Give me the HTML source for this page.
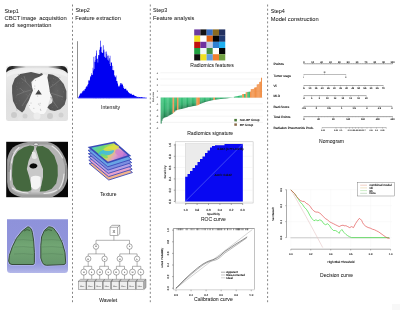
<!DOCTYPE html>
<html><head><meta charset="utf-8"><style>
html,body{margin:0;padding:0;background:#fff;width:400px;height:310px;overflow:hidden;}
svg{display:block;}
text{font-family:"Liberation Sans",sans-serif;}
svg{will-change:transform;filter:blur(0.3px);}
</style></head><body>
<svg width="400" height="310" viewBox="0 0 400 310"><line x1="72.50" y1="4.50" x2="72.50" y2="302.20" stroke="#666" stroke-width="0.8" stroke-dasharray="2 2.225"/>
<line x1="150.30" y1="4.50" x2="150.30" y2="302.20" stroke="#666" stroke-width="0.8" stroke-dasharray="2 2.225"/>
<line x1="267.60" y1="4.50" x2="267.60" y2="302.20" stroke="#666" stroke-width="0.8" stroke-dasharray="2 2.225"/>
<text x="4.5" y="12.6" font-size="6.0" fill="#1a1a1a" text-anchor="start" textLength="14.2" lengthAdjust="spacingAndGlyphs" stroke="#1a1a1a" stroke-width="0.04" >Step1</text>
<text x="4.5" y="20.0" font-size="6.0" fill="#1a1a1a" text-anchor="start" textLength="15.9" lengthAdjust="spacingAndGlyphs" stroke="#1a1a1a" stroke-width="0.04" >CBCT</text>
<text x="21.2" y="20.0" font-size="6.0" fill="#1a1a1a" text-anchor="start" textLength="15.2" lengthAdjust="spacingAndGlyphs" stroke="#1a1a1a" stroke-width="0.04" >image</text>
<text x="39.2" y="20.0" font-size="6.0" fill="#1a1a1a" text-anchor="start" textLength="27.6" lengthAdjust="spacingAndGlyphs" stroke="#1a1a1a" stroke-width="0.04" >acquisition</text>
<text x="4.5" y="27.3" font-size="6.0" fill="#1a1a1a" text-anchor="start" textLength="10.0" lengthAdjust="spacingAndGlyphs" stroke="#1a1a1a" stroke-width="0.04" >and</text>
<text x="17.3" y="27.3" font-size="6.0" fill="#1a1a1a" text-anchor="start" textLength="34.0" lengthAdjust="spacingAndGlyphs" stroke="#1a1a1a" stroke-width="0.04" >segmentation</text>
<text x="75.5" y="12.3" font-size="6.0" fill="#1a1a1a" text-anchor="start" textLength="14.2" lengthAdjust="spacingAndGlyphs" stroke="#1a1a1a" stroke-width="0.04" >Step2</text>
<text x="75.3" y="20.0" font-size="6.0" fill="#1a1a1a" text-anchor="start" textLength="45.5" lengthAdjust="spacingAndGlyphs" stroke="#1a1a1a" stroke-width="0.04" >Feature extraction</text>
<text x="153" y="12.3" font-size="6.0" fill="#1a1a1a" text-anchor="start" textLength="14.2" lengthAdjust="spacingAndGlyphs" stroke="#1a1a1a" stroke-width="0.04" >Step3</text>
<text x="153.1" y="20.0" font-size="6.0" fill="#1a1a1a" text-anchor="start" textLength="41.3" lengthAdjust="spacingAndGlyphs" stroke="#1a1a1a" stroke-width="0.04" >Feature analysis</text>
<text x="270.7" y="13.2" font-size="6.0" fill="#1a1a1a" text-anchor="start" textLength="14.2" lengthAdjust="spacingAndGlyphs" stroke="#1a1a1a" stroke-width="0.04" >Step4</text>
<text x="270.7" y="20.9" font-size="6.0" fill="#1a1a1a" text-anchor="start" textLength="48" lengthAdjust="spacingAndGlyphs" stroke="#1a1a1a" stroke-width="0.04" >Model construction</text>
<defs>
<linearGradient id="ct1top" x1="0" x2="1" y1="0" y2="0">
<stop offset="0" stop-color="#1a1a1a"/><stop offset="0.1" stop-color="#2a2a2a"/><stop offset="0.2" stop-color="#8a8a8a"/><stop offset="0.32" stop-color="#dedede"/><stop offset="0.68" stop-color="#dedede"/><stop offset="0.8" stop-color="#8a8a8a"/><stop offset="0.9" stop-color="#2a2a2a"/><stop offset="1" stop-color="#1a1a1a"/></linearGradient>
<linearGradient id="ct1bg" x1="0" x2="0" y1="0" y2="1">
<stop offset="0" stop-color="#ececec"/><stop offset="0.6" stop-color="#e0e0e0"/><stop offset="1" stop-color="#e2e2e2"/></linearGradient>
<radialGradient id="lungg" cx="0.5" cy="0.5" r="0.6"><stop offset="0" stop-color="#626262"/><stop offset="1" stop-color="#525252"/></radialGradient>
</defs>
<rect x="6" y="65.8" width="62" height="55.2" rx="2.5" fill="url(#ct1bg)"/>
<path d="M6.2,72.5 Q6.2,66 12,65.9 H62 Q67.8,66 67.8,73.5 Q64.5,68.8 53,68 Q37,67.6 21,68 Q9.5,68.6 6.2,72.5 Z" fill="url(#ct1top)"/>
<path d="M7,74.5 Q11,70 24,69.4 Q37,69 50,69.4 Q63,70 67,74.5 L67,77 Q60,72.3 37,72 Q14,72.3 7,77 Z" fill="#f0f0f0"/>
<path d="M42.5,74.5 Q45,73.5 47.4,76 Q48.5,82 49.5,88 Q51,94 50,99 Q48,104 47.5,108 Q46,112 44,114 L36,114 Q30,111 28.5,106 Q28.5,100 29.5,95 Q31.5,90 31.5,86 Q32,82 34.5,79.5 Q39,77.5 42.5,74.5 Z" fill="#f7f7f7"/>
<polygon points="12.10,85.70 14.80,78.50 20.30,73.90 31.10,72.10 39.30,73.90 42.00,73.00 42.90,74.80 39.30,76.70 34.70,78.50 31.30,82.00 32.00,87.00 33.00,90.50 30.80,95.60 29.00,100.20 26.50,104.70 24.50,110.10 22.10,112.50 16.70,108.40 13.00,101.00 12.10,92.90" fill="url(#lungg)" />
<polygon points="48.30,73.90 52.80,74.80 58.20,77.60 63.70,83.90 66.40,91.10 66.40,98.40 64.60,104.70 60.10,109.20 54.60,111.00 50.10,110.10 47.40,107.40 49.20,104.70 51.90,102.90 52.80,100.20 51.90,96.50 50.10,92.90 49.20,87.50 48.30,82.10 47.40,77.60" fill="url(#lungg)" />
<path d="M31.5,88 L26,82 L21,78" fill="none" stroke="#8a8a8a" stroke-width="0.6" opacity="0.8"/>
<path d="M31,90 L24,92 L17,95" fill="none" stroke="#8a8a8a" stroke-width="0.6" opacity="0.8"/>
<path d="M30.5,93 L26,100 L22,106" fill="none" stroke="#8a8a8a" stroke-width="0.6" opacity="0.8"/>
<path d="M26,82 L24,76" fill="none" stroke="#8a8a8a" stroke-width="0.6" opacity="0.8"/>
<path d="M24,92 L20,88" fill="none" stroke="#8a8a8a" stroke-width="0.6" opacity="0.8"/>
<path d="M49.5,88 L55,84 L60,80" fill="none" stroke="#8a8a8a" stroke-width="0.6" opacity="0.8"/>
<path d="M50,93 L57,95 L63,97" fill="none" stroke="#8a8a8a" stroke-width="0.6" opacity="0.8"/>
<path d="M50.5,97 L55,104 L58,108" fill="none" stroke="#8a8a8a" stroke-width="0.6" opacity="0.8"/>
<polygon points="35.30,94.60 38.50,89.80 41.80,94.60" fill="#444" />
<circle cx="26.2" cy="94.5" r="0.5" fill="#7a7a7a" opacity="0.5"/>
<circle cx="63.3" cy="91.3" r="0.5" fill="#7a7a7a" opacity="0.5"/>
<circle cx="27.7" cy="95.5" r="0.5" fill="#7a7a7a" opacity="0.5"/>
<circle cx="52.2" cy="92.8" r="0.5" fill="#7a7a7a" opacity="0.5"/>
<circle cx="31.0" cy="103.0" r="0.5" fill="#7a7a7a" opacity="0.5"/>
<circle cx="50.8" cy="85.9" r="0.5" fill="#7a7a7a" opacity="0.5"/>
<circle cx="16.5" cy="103.6" r="0.5" fill="#7a7a7a" opacity="0.5"/>
<circle cx="59.8" cy="77.3" r="0.5" fill="#7a7a7a" opacity="0.5"/>
<circle cx="40.4" cy="109.2" r="0.5" fill="#7a7a7a" opacity="0.5"/>
<circle cx="59.2" cy="96.3" r="0.5" fill="#7a7a7a" opacity="0.5"/>
<circle cx="18.3" cy="74.6" r="0.5" fill="#7a7a7a" opacity="0.5"/>
<circle cx="57.3" cy="77.9" r="0.5" fill="#7a7a7a" opacity="0.5"/>
<circle cx="19.2" cy="82.9" r="0.5" fill="#7a7a7a" opacity="0.5"/>
<circle cx="49.9" cy="91.3" r="0.5" fill="#7a7a7a" opacity="0.5"/>
<circle cx="25.9" cy="104.8" r="0.5" fill="#7a7a7a" opacity="0.5"/>
<circle cx="57.2" cy="97.1" r="0.5" fill="#7a7a7a" opacity="0.5"/>
<circle cx="27.5" cy="98.2" r="0.5" fill="#7a7a7a" opacity="0.5"/>
<circle cx="56.3" cy="85.1" r="0.5" fill="#7a7a7a" opacity="0.5"/>
<circle cx="40.8" cy="110.3" r="0.5" fill="#7a7a7a" opacity="0.5"/>
<circle cx="62.0" cy="99.3" r="0.5" fill="#7a7a7a" opacity="0.5"/>
<circle cx="22.5" cy="82.5" r="0.5" fill="#7a7a7a" opacity="0.5"/>
<circle cx="53.7" cy="78.2" r="0.5" fill="#7a7a7a" opacity="0.5"/>
<circle cx="34.6" cy="88.7" r="0.5" fill="#7a7a7a" opacity="0.5"/>
<circle cx="62.1" cy="88.7" r="0.5" fill="#7a7a7a" opacity="0.5"/>
<circle cx="39.8" cy="104.9" r="0.5" fill="#7a7a7a" opacity="0.5"/>
<circle cx="49.4" cy="82.8" r="0.5" fill="#7a7a7a" opacity="0.5"/>
<circle cx="38.5" cy="91.2" r="0.5" fill="#7a7a7a" opacity="0.5"/>
<circle cx="64.1" cy="89.1" r="0.5" fill="#7a7a7a" opacity="0.5"/>
<circle cx="16.1" cy="97.0" r="0.5" fill="#7a7a7a" opacity="0.5"/>
<circle cx="61.1" cy="84.8" r="0.5" fill="#7a7a7a" opacity="0.5"/>
<circle cx="16.4" cy="86.2" r="0.5" fill="#7a7a7a" opacity="0.5"/>
<circle cx="63.9" cy="101.0" r="0.5" fill="#7a7a7a" opacity="0.5"/>
<circle cx="17.3" cy="83.1" r="0.5" fill="#7a7a7a" opacity="0.5"/>
<circle cx="50.9" cy="77.9" r="0.5" fill="#7a7a7a" opacity="0.5"/>
<circle cx="35.5" cy="80.6" r="0.5" fill="#7a7a7a" opacity="0.5"/>
<circle cx="57.8" cy="90.7" r="0.5" fill="#7a7a7a" opacity="0.5"/>
<circle cx="19.2" cy="100.7" r="0.5" fill="#7a7a7a" opacity="0.5"/>
<circle cx="51.4" cy="97.2" r="0.5" fill="#7a7a7a" opacity="0.5"/>
<circle cx="17.2" cy="89.4" r="0.5" fill="#7a7a7a" opacity="0.5"/>
<circle cx="52.6" cy="84.8" r="0.5" fill="#7a7a7a" opacity="0.5"/>
<circle cx="40.1" cy="103.3" r="0.5" fill="#7a7a7a" opacity="0.5"/>
<circle cx="54.0" cy="105.2" r="0.5" fill="#7a7a7a" opacity="0.5"/>
<circle cx="19.7" cy="88.5" r="0.5" fill="#7a7a7a" opacity="0.5"/>
<circle cx="62.2" cy="97.1" r="0.5" fill="#7a7a7a" opacity="0.5"/>
<circle cx="16.8" cy="110.1" r="0.5" fill="#7a7a7a" opacity="0.5"/>
<circle cx="52.6" cy="84.4" r="0.5" fill="#7a7a7a" opacity="0.5"/>
<circle cx="34.8" cy="86.1" r="0.5" fill="#7a7a7a" opacity="0.5"/>
<circle cx="53.8" cy="78.3" r="0.5" fill="#7a7a7a" opacity="0.5"/>
<circle cx="16.5" cy="95.3" r="0.5" fill="#7a7a7a" opacity="0.5"/>
<circle cx="53.0" cy="95.8" r="0.5" fill="#7a7a7a" opacity="0.5"/>
<circle cx="24.1" cy="90.6" r="0.5" fill="#7a7a7a" opacity="0.5"/>
<circle cx="63.8" cy="91.9" r="0.5" fill="#7a7a7a" opacity="0.5"/>
<circle cx="29.5" cy="105.6" r="0.5" fill="#7a7a7a" opacity="0.5"/>
<circle cx="52.1" cy="81.0" r="0.5" fill="#7a7a7a" opacity="0.5"/>
<circle cx="38.4" cy="103.9" r="0.5" fill="#7a7a7a" opacity="0.5"/>
<circle cx="53.1" cy="82.2" r="0.5" fill="#7a7a7a" opacity="0.5"/>
<circle cx="33.9" cy="108.3" r="0.5" fill="#7a7a7a" opacity="0.5"/>
<circle cx="52.3" cy="107.3" r="0.5" fill="#7a7a7a" opacity="0.5"/>
<circle cx="37.7" cy="96.1" r="0.5" fill="#7a7a7a" opacity="0.5"/>
<circle cx="55.7" cy="79.3" r="0.5" fill="#7a7a7a" opacity="0.5"/>
<circle cx="14" cy="115" r="3" fill="#cbcbcb"/>
<circle cx="25" cy="116" r="2.5" fill="#d0d0d0"/>
<circle cx="50" cy="116" r="3" fill="#cbcbcb"/>
<circle cx="61" cy="115" r="2.5" fill="#d0d0d0"/>
<circle cx="37" cy="116" r="3.5" fill="#ededed"/>
<circle cx="20" cy="119" r="2" fill="#e4e4e4"/>
<circle cx="55" cy="119" r="2" fill="#e4e4e4"/>
<rect x="6.2" y="141.8" width="61.8" height="55.4" fill="#080808"/>
<path d="M28,141.9 L47.5,141.9 Q54,143 59,148 Q63,153 65.5,159 Q67.6,165 67.6,170 L67.6,178 Q66,186 62,190.5 Q58,194.5 52,197.2 H22 Q13,195.5 9.5,191 Q7.1,187 7.1,182 L7.1,160 Q8.5,152 13,147.5 Q19,143 28,141.9 Z" fill="#9c9c9c"/>
<path d="M28.5,144.4 L48,144.4 Q53.5,145.5 57,150 Q61,155 63.2,160.5 Q65.1,166 65.1,170.5 L65.1,177.5 Q63.8,184.5 60.2,188.6 Q56.5,192.2 51,194.6 H22.5 Q15,193.2 12,189.5 Q9.7,186 9.7,181.5 L9.7,161 Q11,154 14.8,150 Q20,145.5 28.5,144.4 Z" fill="#b4b4b4"/>
<path d="M11.5,163 Q12.5,153 19,147.5" fill="none" stroke="#e6e6e6" stroke-width="1.1" stroke-linecap="round"/>
<path d="M52,146 Q59,150.5 62.5,158" fill="none" stroke="#e6e6e6" stroke-width="1.1" stroke-linecap="round"/>
<path d="M12.5,188 Q18,192.5 28,193" fill="none" stroke="#e6e6e6" stroke-width="1.1" stroke-linecap="round"/>
<path d="M64,174 Q63.5,183 59,189" fill="none" stroke="#e6e6e6" stroke-width="1.1" stroke-linecap="round"/>
<path d="M10.5,170 L10.5,180" fill="none" stroke="#e6e6e6" stroke-width="1.1" stroke-linecap="round"/>
<path d="M44,193.5 Q52,193 57,190" fill="none" stroke="#e6e6e6" stroke-width="1.1" stroke-linecap="round"/>
<path d="M9,172 Q9,160 13,153" fill="none" stroke="#7a7a7a" stroke-width="0.8"/>
<path d="M66,165 Q66,178 63,186" fill="none" stroke="#7a7a7a" stroke-width="0.8"/>
<path d="M34.1,148.2 L36.2,148.2 L39.9,161 L43.6,169 L43.6,177 L41.9,185 L40.2,192.6 L31.3,192.6 L30.6,185 L28.9,177 L26.4,169 L28.3,161 Z" fill="#c8c8c8"/>
<polygon points="12.30,166.00 13.80,157.00 18.00,151.00 24.00,147.30 30.00,145.60 34.00,146.30 34.10,149.00 31.00,155.00 28.50,161.00 26.80,169.00 29.30,177.00 30.90,185.00 31.50,190.00 28.00,191.50 22.00,191.20 16.50,189.50 13.20,184.50 12.00,176.00" fill="#45683f" />
<polygon points="37.00,146.30 42.70,146.10 48.50,149.00 54.30,155.80 57.60,165.50 57.80,175.70 56.20,183.50 51.50,189.00 45.50,191.20 40.50,191.60 39.70,192.00 41.40,185.00 43.00,177.00 43.00,169.00 39.70,161.00 36.00,149.00" fill="#45683f" />
<path d="M29.3,166 Q30.5,163.1 34,163.4 Q37.6,163.8 37.4,166.3 Q36.2,168.7 33,168.5 Q29.8,168.4 29.3,166 Z" fill="#0a0a0a"/>
<path d="M31,177 Q35.7,174.3 40.6,177 L40.6,185.5 Q38,189.5 35.5,189.5 Q33,189.5 31,186.5 Z" fill="#f4f4f4"/>
<path d="M32,152 Q34,151 35.5,153 L37,158 Q34.5,160 32,158 Z" fill="#e8e8e8"/>
<ellipse cx="36" cy="144.2" rx="2.6" ry="1.1" fill="#fafafa" stroke="#222" stroke-width="0.4"/>
<defs><linearGradient id="bg3" x1="0" x2="0" y1="0" y2="1"><stop offset="0" stop-color="#8e92da"/><stop offset="0.8" stop-color="#9295dc"/><stop offset="0.9" stop-color="#a0a4e0"/><stop offset="1" stop-color="#b4b8ea"/></linearGradient><linearGradient id="lg3" x1="0" x2="0" y1="0" y2="1"><stop offset="0" stop-color="#5e9062"/><stop offset="0.5" stop-color="#72a674"/><stop offset="1" stop-color="#66966a"/></linearGradient></defs>
<path d="M7,219.2 H68 V269.5 Q68,273 64.5,273 H10.5 Q7,273 7,269.5 Z" fill="url(#bg3)"/>
<path d="M27.9,226.8 L22.2,231.1 L16.5,238.2 L12.3,246.8 L9.4,255.3 L8.7,261 Q9,264.5 12,264.5 L33.2,264.5 Q34.6,264 34.4,262.4 L34.4,252.4 L33.7,241 L32.4,232.5 Q31.2,227 27.9,226.8 Z" fill="none" stroke="#b4b8ea" stroke-width="2.4"/>
<path d="M48.7,226.8 L44.4,230.4 L41.6,236.8 L40.8,245.3 L40.8,258.1 L42.3,262.4 Q43.5,265.3 46.5,265.3 L64,264.6 Q65.8,264 65.7,262.4 L65,252.4 L62.2,242.5 L57.9,234 L53.6,228.3 Q51,226.6 48.7,226.8 Z" fill="none" stroke="#b4b8ea" stroke-width="2.4"/>
<path d="M27.9,226.8 L22.2,231.1 L16.5,238.2 L12.3,246.8 L9.4,255.3 L8.7,261 Q9,264.5 12,264.5 L33.2,264.5 Q34.6,264 34.4,262.4 L34.4,252.4 L33.7,241 L32.4,232.5 Q31.2,227 27.9,226.8 Z" fill="url(#lg3)" stroke="#2c422c" stroke-width="0.9"/>
<path d="M48.7,226.8 L44.4,230.4 L41.6,236.8 L40.8,245.3 L40.8,258.1 L42.3,262.4 Q43.5,265.3 46.5,265.3 L64,264.6 Q65.8,264 65.7,262.4 L65,252.4 L62.2,242.5 L57.9,234 L53.6,228.3 Q51,226.6 48.7,226.8 Z" fill="url(#lg3)" stroke="#2c422c" stroke-width="0.9"/>
<path d="M24,231 Q27,228.5 30,230.5" fill="none" stroke="#2f4a2c" stroke-width="0.7"/>
<path d="M45,231 Q48,228.5 52,230.5" fill="none" stroke="#2f4a2c" stroke-width="0.7"/>
<path d="M14,240 Q24,239 33,240.5" fill="none" stroke="#557f58" stroke-width="0.6" opacity="0.7"/>
<path d="M42,240 Q52,239 63,240.5" fill="none" stroke="#557f58" stroke-width="0.6" opacity="0.7"/>
<path d="M14,247 Q24,246 33,247.5" fill="none" stroke="#557f58" stroke-width="0.6" opacity="0.7"/>
<path d="M42,247 Q52,246 63,247.5" fill="none" stroke="#557f58" stroke-width="0.6" opacity="0.7"/>
<path d="M14,254 Q24,253 33,254.5" fill="none" stroke="#557f58" stroke-width="0.6" opacity="0.7"/>
<path d="M42,254 Q52,253 63,254.5" fill="none" stroke="#557f58" stroke-width="0.6" opacity="0.7"/>
<path d="M77.88,98.2 V97.79 H78.43 V96.79 H78.98 V95.69 H79.53 V94.39 H80.08 V93.84 H80.63 V93.11 H81.18 V93.60 H81.73 V92.58 H82.28 V91.35 H82.83 V91.20 H83.38 V90.20 H83.93 V90.82 H84.48 V89.36 H85.03 V89.04 H85.58 V87.47 H86.13 V86.32 H86.68 V86.87 H87.23 V85.29 H87.78 V83.94 H88.33 V80.42 H88.88 V79.67 H89.43 V80.67 H89.98 V75.91 H90.53 V77.29 H91.08 V73.30 H91.63 V75.03 H92.18 V74.72 H92.73 V67.76 H93.28 V70.48 H93.83 V68.95 H94.38 V61.73 H94.93 V60.12 H95.48 V61.92 H96.03 V53.36 H96.58 V58.64 H97.13 V58.85 H97.68 V62.46 H98.23 V54.89 H98.78 V55.32 H99.33 V49.79 H99.88 V47.32 H100.43 V47.17 H100.98 V46.77 H101.53 V52.27 H102.08 V52.97 H102.63 V52.67 H103.18 V50.32 H103.73 V49.59 H104.28 V56.84 H104.83 V51.76 H105.38 V57.77 H105.93 V57.48 H106.48 V51.59 H107.03 V55.80 H107.58 V59.80 H108.13 V60.95 H108.68 V59.65 H109.23 V64.10 H109.78 V55.78 H110.33 V65.96 H110.88 V62.25 H111.43 V62.82 H111.98 V69.93 H112.53 V65.77 H113.08 V70.16 H113.63 V70.32 H114.18 V75.23 H114.73 V76.44 H115.28 V77.19 H115.83 V75.49 H116.38 V81.02 H116.93 V81.24 H117.48 V83.53 H118.03 V85.80 H118.58 V86.81 H119.13 V86.27 H119.68 V84.81 H120.23 V82.92 H120.78 V84.83 H121.33 V83.26 H121.88 V83.75 H122.43 V84.71 H122.98 V87.99 H123.53 V86.35 H124.08 V88.92 H124.63 V88.86 H125.18 V88.81 H125.73 V88.76 H126.28 V90.40 H126.83 V89.92 H127.38 V91.11 H127.93 V91.99 H128.48 V92.45 H129.03 V93.04 H129.58 V93.55 H130.13 V93.86 H130.68 V93.73 H131.23 V93.74 H131.78 V94.69 H132.33 V94.98 H132.88 V94.46 H133.43 V95.02 H133.98 V95.42 H134.53 V95.83 H135.08 V95.96 H135.63 V96.18 H136.18 V96.60 H136.73 V96.71 H137.28 V96.94 H137.83 V96.78 H138.38 V97.13 H138.93 V97.05 H139.48 V96.96 H140.03 V97.15 H140.58 V96.99 H141.13 V96.93 H141.68 V97.12 H142.23 V97.19 H142.78 V97.43 H143.33 V97.48 H143.88 V97.61 H144.43 V97.57 H144.98 V97.69 H145.53 V97.73 H146.08 V97.73 H146.63 V98.2 Z" fill="#0000f2"/>
<rect x="100.40" y="40.70" width="0.6" height="57.50" fill="#0000f2"/>
<rect x="102.90" y="45.30" width="0.6" height="52.90" fill="#0000f2"/>
<rect x="96.20" y="50.50" width="0.6" height="47.70" fill="#0000f2"/>
<rect x="98.60" y="56.50" width="0.6" height="41.70" fill="#0000f2"/>
<rect x="106.50" y="53.80" width="0.6" height="44.40" fill="#0000f2"/>
<rect x="107.90" y="55.50" width="0.6" height="42.70" fill="#0000f2"/>
<rect x="109.20" y="58.20" width="0.6" height="40.00" fill="#0000f2"/>
<rect x="95.20" y="55.80" width="0.6" height="42.40" fill="#0000f2"/>
<rect x="93.60" y="56.80" width="0.6" height="41.40" fill="#0000f2"/>
<rect x="120.60" y="83.50" width="0.6" height="14.70" fill="#0000f2"/>
<line x1="77.50" y1="41.20" x2="77.50" y2="98.00" stroke="#444" stroke-width="0.6" />
<line x1="77.50" y1="98.00" x2="147.00" y2="98.00" stroke="#7777ff" stroke-width="0.5" />
<text x="110.6" y="109.1" font-size="5.0" fill="#333" text-anchor="middle" textLength="19" lengthAdjust="spacingAndGlyphs" stroke="#333" stroke-width="0.04" >Intensity</text>
<defs>
<linearGradient id="tg1" x1="0" x2="1" y1="0" y2="0.4"><stop offset="0" stop-color="#40c8e8"/><stop offset="0.35" stop-color="#70d870"/><stop offset="0.6" stop-color="#d8e048"/><stop offset="0.8" stop-color="#e0a0c8"/><stop offset="1" stop-color="#b070d8"/></linearGradient>
</defs>
<polygon points="89.05,163.50 115.85,158.10 132.45,172.50 108.75,180.00" fill="#f2b48c" stroke="#3c4cba" stroke-width="0.9" stroke-linejoin="round"/>
<polygon points="88.80,160.20 115.60,154.80 132.20,169.20 108.50,176.70" fill="#e6a2cc" stroke="#3c4cba" stroke-width="0.9" stroke-linejoin="round"/>
<polygon points="88.55,156.90 115.35,151.50 131.95,165.90 108.25,173.40" fill="#b2a0e4" stroke="#3c4cba" stroke-width="0.9" stroke-linejoin="round"/>
<polygon points="88.30,153.60 115.10,148.20 131.70,162.60 108.00,170.10" fill="#7c8ee0" stroke="#3c4cba" stroke-width="0.9" stroke-linejoin="round"/>
<polygon points="88.05,150.30 114.85,144.90 131.45,159.30 107.75,166.80" fill="#68a4e4" stroke="#3c4cba" stroke-width="0.9" stroke-linejoin="round"/>
<polygon points="87.60,147.00 114.60,141.60 131.20,156.00 107.50,163.50" fill="#3a4ab8" />
<polygon points="91.22,147.80 113.90,143.27 127.84,155.36 107.94,161.66" fill="url(#tg1)" />
<ellipse cx="106.2" cy="152.5" rx="8" ry="3" fill="#38b8e8" opacity="0.85" transform="rotate(-12 106.2 152.5)"/>
<ellipse cx="111.2" cy="148.2" rx="8" ry="2.4" fill="#e0e040" opacity="0.8" transform="rotate(-12 111.2 148.2)"/>
<ellipse cx="119.2" cy="153.0" rx="4.5" ry="2.8" fill="#d080d0" opacity="0.8" transform="rotate(35 119.2 153.0)"/>
<ellipse cx="104.2" cy="156.0" rx="4" ry="1.6" fill="#70d870" opacity="0.8" transform="rotate(25 104.2 156.0)"/>
<text x="108.3" y="195.5" font-size="5.0" fill="#222" text-anchor="middle" textLength="16.3" lengthAdjust="spacingAndGlyphs" stroke="#222" stroke-width="0.04" >Texture</text>
<rect x="110" y="227.2" width="7.8" height="8.5" fill="#fff" stroke="#555" stroke-width="0.45"/>
<path d="M110,227.2 L112,225.3 H119.8 L117.8,227.2 M119.8,225.3 V233.8 L117.8,235.7" fill="#eee" stroke="#555" stroke-width="0.45"/>
<text x="113.9" y="233.2" font-size="4.2" fill="#333" text-anchor="middle" stroke="#333" stroke-width="0.04" >X</text>
<line x1="113.90" y1="235.70" x2="113.90" y2="240.30" stroke="#555" stroke-width="0.45" />
<line x1="96.00" y1="240.30" x2="129.50" y2="240.30" stroke="#555" stroke-width="0.45" />
<line x1="96.00" y1="240.30" x2="96.00" y2="243.90" stroke="#555" stroke-width="0.45" />
<circle cx="96" cy="246.6" r="2.7" fill="#fff" stroke="#555" stroke-width="0.5"/>
<text x="96" y="247.4" font-size="2.2" fill="#555" text-anchor="middle" stroke="#555" stroke-width="0.12"  text-rendering="geometricPrecision">H</text>
<line x1="129.50" y1="240.30" x2="129.50" y2="243.90" stroke="#555" stroke-width="0.45" />
<circle cx="129.5" cy="246.6" r="2.7" fill="#fff" stroke="#555" stroke-width="0.5"/>
<text x="129.5" y="247.4" font-size="2.2" fill="#555" text-anchor="middle" stroke="#555" stroke-width="0.12"  text-rendering="geometricPrecision">L</text>
<line x1="96.00" y1="249.30" x2="96.00" y2="253.90" stroke="#555" stroke-width="0.45" />
<line x1="129.50" y1="249.30" x2="129.50" y2="253.90" stroke="#555" stroke-width="0.45" />
<line x1="88.20" y1="253.90" x2="104.60" y2="253.90" stroke="#555" stroke-width="0.45" />
<line x1="119.80" y1="253.90" x2="137.10" y2="253.90" stroke="#555" stroke-width="0.45" />
<line x1="88.20" y1="253.90" x2="88.20" y2="256.10" stroke="#555" stroke-width="0.45" />
<circle cx="88.2" cy="258.8" r="2.7" fill="#fff" stroke="#555" stroke-width="0.5"/>
<text x="88.2" y="259.6" font-size="2.2" fill="#555" text-anchor="middle" stroke="#555" stroke-width="0.12"  text-rendering="geometricPrecision">H</text>
<line x1="104.60" y1="253.90" x2="104.60" y2="256.10" stroke="#555" stroke-width="0.45" />
<circle cx="104.6" cy="258.8" r="2.7" fill="#fff" stroke="#555" stroke-width="0.5"/>
<text x="104.6" y="259.6" font-size="2.2" fill="#555" text-anchor="middle" stroke="#555" stroke-width="0.12"  text-rendering="geometricPrecision">L</text>
<line x1="119.80" y1="253.90" x2="119.80" y2="256.10" stroke="#555" stroke-width="0.45" />
<circle cx="119.8" cy="258.8" r="2.7" fill="#fff" stroke="#555" stroke-width="0.5"/>
<text x="119.8" y="259.6" font-size="2.2" fill="#555" text-anchor="middle" stroke="#555" stroke-width="0.12"  text-rendering="geometricPrecision">H</text>
<line x1="137.10" y1="253.90" x2="137.10" y2="256.10" stroke="#555" stroke-width="0.45" />
<circle cx="137.1" cy="258.8" r="2.7" fill="#fff" stroke="#555" stroke-width="0.5"/>
<text x="137.1" y="259.6" font-size="2.2" fill="#555" text-anchor="middle" stroke="#555" stroke-width="0.12"  text-rendering="geometricPrecision">L</text>
<line x1="88.20" y1="261.50" x2="88.20" y2="266.30" stroke="#555" stroke-width="0.45" />
<line x1="83.80" y1="266.30" x2="91.70" y2="266.30" stroke="#555" stroke-width="0.45" />
<line x1="83.80" y1="266.30" x2="83.80" y2="269.40" stroke="#555" stroke-width="0.45" />
<line x1="91.70" y1="266.30" x2="91.70" y2="269.40" stroke="#555" stroke-width="0.45" />
<line x1="104.60" y1="261.50" x2="104.60" y2="266.30" stroke="#555" stroke-width="0.45" />
<line x1="99.70" y1="266.30" x2="108.40" y2="266.30" stroke="#555" stroke-width="0.45" />
<line x1="99.70" y1="266.30" x2="99.70" y2="269.40" stroke="#555" stroke-width="0.45" />
<line x1="108.40" y1="266.30" x2="108.40" y2="269.40" stroke="#555" stroke-width="0.45" />
<line x1="119.80" y1="261.50" x2="119.80" y2="266.30" stroke="#555" stroke-width="0.45" />
<line x1="116.40" y1="266.30" x2="124.50" y2="266.30" stroke="#555" stroke-width="0.45" />
<line x1="116.40" y1="266.30" x2="116.40" y2="269.40" stroke="#555" stroke-width="0.45" />
<line x1="124.50" y1="266.30" x2="124.50" y2="269.40" stroke="#555" stroke-width="0.45" />
<line x1="137.10" y1="261.50" x2="137.10" y2="266.30" stroke="#555" stroke-width="0.45" />
<line x1="132.50" y1="266.30" x2="140.80" y2="266.30" stroke="#555" stroke-width="0.45" />
<line x1="132.50" y1="266.30" x2="132.50" y2="269.40" stroke="#555" stroke-width="0.45" />
<line x1="140.80" y1="266.30" x2="140.80" y2="269.40" stroke="#555" stroke-width="0.45" />
<circle cx="83.8" cy="272.1" r="3.0" fill="#fff" stroke="#555" stroke-width="0.5"/>
<text x="83.8" y="272.90000000000003" font-size="2.2" fill="#555" text-anchor="middle" stroke="#555" stroke-width="0.12"  text-rendering="geometricPrecision">H</text>
<line x1="83.80" y1="274.80" x2="83.80" y2="279.30" stroke="#555" stroke-width="0.45" />
<circle cx="91.7" cy="272.1" r="3.0" fill="#fff" stroke="#555" stroke-width="0.5"/>
<text x="91.7" y="272.90000000000003" font-size="2.2" fill="#555" text-anchor="middle" stroke="#555" stroke-width="0.12"  text-rendering="geometricPrecision">L</text>
<line x1="91.70" y1="274.80" x2="91.70" y2="279.30" stroke="#555" stroke-width="0.45" />
<circle cx="99.7" cy="272.1" r="3.0" fill="#fff" stroke="#555" stroke-width="0.5"/>
<text x="99.7" y="272.90000000000003" font-size="2.2" fill="#555" text-anchor="middle" stroke="#555" stroke-width="0.12"  text-rendering="geometricPrecision">H</text>
<line x1="99.70" y1="274.80" x2="99.70" y2="279.30" stroke="#555" stroke-width="0.45" />
<circle cx="108.4" cy="272.1" r="3.0" fill="#fff" stroke="#555" stroke-width="0.5"/>
<text x="108.4" y="272.90000000000003" font-size="2.2" fill="#555" text-anchor="middle" stroke="#555" stroke-width="0.12"  text-rendering="geometricPrecision">L</text>
<line x1="108.40" y1="274.80" x2="108.40" y2="279.30" stroke="#555" stroke-width="0.45" />
<circle cx="116.4" cy="272.1" r="3.0" fill="#fff" stroke="#555" stroke-width="0.5"/>
<text x="116.4" y="272.90000000000003" font-size="2.2" fill="#555" text-anchor="middle" stroke="#555" stroke-width="0.12"  text-rendering="geometricPrecision">H</text>
<line x1="116.40" y1="274.80" x2="116.40" y2="279.30" stroke="#555" stroke-width="0.45" />
<circle cx="124.5" cy="272.1" r="3.0" fill="#fff" stroke="#555" stroke-width="0.5"/>
<text x="124.5" y="272.90000000000003" font-size="2.2" fill="#555" text-anchor="middle" stroke="#555" stroke-width="0.12"  text-rendering="geometricPrecision">L</text>
<line x1="124.50" y1="274.80" x2="124.50" y2="279.30" stroke="#555" stroke-width="0.45" />
<circle cx="132.5" cy="272.1" r="3.0" fill="#fff" stroke="#555" stroke-width="0.5"/>
<text x="132.5" y="272.90000000000003" font-size="2.2" fill="#555" text-anchor="middle" stroke="#555" stroke-width="0.12"  text-rendering="geometricPrecision">H</text>
<line x1="132.50" y1="274.80" x2="132.50" y2="279.30" stroke="#555" stroke-width="0.45" />
<circle cx="140.8" cy="272.1" r="3.0" fill="#fff" stroke="#555" stroke-width="0.5"/>
<text x="140.8" y="272.90000000000003" font-size="2.2" fill="#555" text-anchor="middle" stroke="#555" stroke-width="0.12"  text-rendering="geometricPrecision">L</text>
<line x1="140.80" y1="274.80" x2="140.80" y2="279.30" stroke="#555" stroke-width="0.45" />
<path d="M86.00,281.2 L88.20,279.30 V287.70 L86.00,289.6 Z" fill="#b8b8b8" stroke="#555" stroke-width="0.45"/>
<path d="M78.40,281.2 L80.60,279.30 H88.20 L86.00,281.2 Z" fill="#dedede" stroke="#666" stroke-width="0.45"/>
<rect x="78.40" y="281.2" width="7.6" height="8.40" fill="#efefef" stroke="#666" stroke-width="0.45"/>
<text x="82.2" y="286.6" font-size="2.3" fill="#555" text-anchor="middle" stroke="#555" stroke-width="0.05"  text-rendering="geometricPrecision">H<tspan font-size="1.6">LLL</tspan></text>
<path d="M94.25,281.2 L96.45,279.30 V287.70 L94.25,289.6 Z" fill="#b8b8b8" stroke="#555" stroke-width="0.45"/>
<path d="M86.65,281.2 L88.85,279.30 H96.45 L94.25,281.2 Z" fill="#dedede" stroke="#666" stroke-width="0.45"/>
<rect x="86.65" y="281.2" width="7.6" height="8.40" fill="#efefef" stroke="#666" stroke-width="0.45"/>
<text x="90.45" y="286.6" font-size="2.3" fill="#555" text-anchor="middle" stroke="#555" stroke-width="0.05"  text-rendering="geometricPrecision">H<tspan font-size="1.6">LLL</tspan></text>
<path d="M102.50,281.2 L104.70,279.30 V287.70 L102.50,289.6 Z" fill="#b8b8b8" stroke="#555" stroke-width="0.45"/>
<path d="M94.90,281.2 L97.10,279.30 H104.70 L102.50,281.2 Z" fill="#dedede" stroke="#666" stroke-width="0.45"/>
<rect x="94.90" y="281.2" width="7.6" height="8.40" fill="#efefef" stroke="#666" stroke-width="0.45"/>
<text x="98.7" y="286.6" font-size="2.3" fill="#555" text-anchor="middle" stroke="#555" stroke-width="0.05"  text-rendering="geometricPrecision">H<tspan font-size="1.6">LLL</tspan></text>
<path d="M110.75,281.2 L112.95,279.30 V287.70 L110.75,289.6 Z" fill="#b8b8b8" stroke="#555" stroke-width="0.45"/>
<path d="M103.15,281.2 L105.35,279.30 H112.95 L110.75,281.2 Z" fill="#dedede" stroke="#666" stroke-width="0.45"/>
<rect x="103.15" y="281.2" width="7.6" height="8.40" fill="#efefef" stroke="#666" stroke-width="0.45"/>
<text x="106.95" y="286.6" font-size="2.3" fill="#555" text-anchor="middle" stroke="#555" stroke-width="0.05"  text-rendering="geometricPrecision">H<tspan font-size="1.6">LLL</tspan></text>
<path d="M119.00,281.2 L121.20,279.30 V287.70 L119.00,289.6 Z" fill="#b8b8b8" stroke="#555" stroke-width="0.45"/>
<path d="M111.40,281.2 L113.60,279.30 H121.20 L119.00,281.2 Z" fill="#dedede" stroke="#666" stroke-width="0.45"/>
<rect x="111.40" y="281.2" width="7.6" height="8.40" fill="#efefef" stroke="#666" stroke-width="0.45"/>
<text x="115.2" y="286.6" font-size="2.3" fill="#555" text-anchor="middle" stroke="#555" stroke-width="0.05"  text-rendering="geometricPrecision">H<tspan font-size="1.6">LLL</tspan></text>
<path d="M127.25,281.2 L129.45,279.30 V287.70 L127.25,289.6 Z" fill="#b8b8b8" stroke="#555" stroke-width="0.45"/>
<path d="M119.65,281.2 L121.85,279.30 H129.45 L127.25,281.2 Z" fill="#dedede" stroke="#666" stroke-width="0.45"/>
<rect x="119.65" y="281.2" width="7.6" height="8.40" fill="#efefef" stroke="#666" stroke-width="0.45"/>
<text x="123.45" y="286.6" font-size="2.3" fill="#555" text-anchor="middle" stroke="#555" stroke-width="0.05"  text-rendering="geometricPrecision">H<tspan font-size="1.6">LLL</tspan></text>
<path d="M135.50,281.2 L137.70,279.30 V287.70 L135.50,289.6 Z" fill="#b8b8b8" stroke="#555" stroke-width="0.45"/>
<path d="M127.90,281.2 L130.10,279.30 H137.70 L135.50,281.2 Z" fill="#dedede" stroke="#666" stroke-width="0.45"/>
<rect x="127.90" y="281.2" width="7.6" height="8.40" fill="#efefef" stroke="#666" stroke-width="0.45"/>
<text x="131.70000000000002" y="286.6" font-size="2.3" fill="#555" text-anchor="middle" stroke="#555" stroke-width="0.05"  text-rendering="geometricPrecision">H<tspan font-size="1.6">LLL</tspan></text>
<path d="M143.75,281.2 L145.95,279.30 V287.70 L143.75,289.6 Z" fill="#b8b8b8" stroke="#555" stroke-width="0.45"/>
<path d="M136.15,281.2 L138.35,279.30 H145.95 L143.75,281.2 Z" fill="#dedede" stroke="#666" stroke-width="0.45"/>
<rect x="136.15" y="281.2" width="7.6" height="8.40" fill="#efefef" stroke="#666" stroke-width="0.45"/>
<text x="139.95000000000002" y="286.6" font-size="2.3" fill="#555" text-anchor="middle" stroke="#555" stroke-width="0.05"  text-rendering="geometricPrecision">H<tspan font-size="1.6">LLL</tspan></text>
<text x="108.2" y="301.7" font-size="5.0" fill="#222" text-anchor="middle" textLength="18" lengthAdjust="spacingAndGlyphs" stroke="#222" stroke-width="0.04" >Wavelet</text>
<rect x="194.20" y="29.40" width="6.25" height="6.25" fill="#6a3aa0"/>
<rect x="200.40" y="29.40" width="6.25" height="6.25" fill="#141414"/>
<rect x="206.60" y="29.40" width="6.25" height="6.25" fill="#3a6ec0"/>
<rect x="212.80" y="29.40" width="6.25" height="6.25" fill="#8a6a20"/>
<rect x="219.00" y="29.40" width="6.25" height="6.25" fill="#223060"/>
<rect x="194.20" y="35.60" width="6.25" height="6.25" fill="#f0e020"/>
<rect x="200.40" y="35.60" width="6.25" height="6.25" fill="#ffffff"/>
<rect x="206.60" y="35.60" width="6.25" height="6.25" fill="#e06010"/>
<rect x="212.80" y="35.60" width="6.25" height="6.25" fill="#050505"/>
<rect x="219.00" y="35.60" width="6.25" height="6.25" fill="#203870"/>
<rect x="194.20" y="41.80" width="6.25" height="6.25" fill="#c01010"/>
<rect x="200.40" y="41.80" width="6.25" height="6.25" fill="#7030a0"/>
<rect x="206.60" y="41.80" width="6.25" height="6.25" fill="#c4cce0"/>
<rect x="212.80" y="41.80" width="6.25" height="6.25" fill="#3080d0"/>
<rect x="219.00" y="41.80" width="6.25" height="6.25" fill="#20b0f0"/>
<rect x="194.20" y="48.00" width="6.25" height="6.25" fill="#20a040"/>
<rect x="200.40" y="48.00" width="6.25" height="6.25" fill="#f0f8f8"/>
<rect x="206.60" y="48.00" width="6.25" height="6.25" fill="#409040"/>
<rect x="212.80" y="48.00" width="6.25" height="6.25" fill="#ffffff"/>
<rect x="219.00" y="48.00" width="6.25" height="6.25" fill="#050505"/>
<rect x="194.20" y="54.20" width="6.25" height="6.25" fill="#101010"/>
<rect x="200.40" y="54.20" width="6.25" height="6.25" fill="#f0e020"/>
<rect x="206.60" y="54.20" width="6.25" height="6.25" fill="#60a0e0"/>
<rect x="212.80" y="54.20" width="6.25" height="6.25" fill="#f08030"/>
<rect x="219.00" y="54.20" width="6.25" height="6.25" fill="#70a040"/>
<text x="212" y="67.3" font-size="5.1" fill="#1a1a1a" text-anchor="middle" textLength="43.4" lengthAdjust="spacingAndGlyphs" stroke="#1a1a1a" stroke-width="0.04" >Radiomics features</text>
<defs><linearGradient id="gb0" x1="0" x2="0" y1="0" y2="1"><stop offset="0" stop-color="#2cc272"/><stop offset="0.6" stop-color="#20a860"/><stop offset="1" stop-color="#0f7440"/></linearGradient><linearGradient id="gb1" x1="0" x2="0" y1="0" y2="1"><stop offset="0" stop-color="#28bc6c"/><stop offset="0.6" stop-color="#1ca05a"/><stop offset="1" stop-color="#0e6c3a"/></linearGradient><linearGradient id="gb2" x1="0" x2="0" y1="0" y2="1"><stop offset="0" stop-color="#30c676"/><stop offset="0.6" stop-color="#24ae64"/><stop offset="1" stop-color="#117a44"/></linearGradient></defs>
<line x1="160.30" y1="72.80" x2="263.00" y2="72.80" stroke="#e4e4e4" stroke-width="0.4" />
<line x1="160.30" y1="79.00" x2="263.00" y2="79.00" stroke="#e4e4e4" stroke-width="0.4" />
<line x1="160.30" y1="85.20" x2="263.00" y2="85.20" stroke="#e4e4e4" stroke-width="0.4" />
<line x1="160.30" y1="91.40" x2="263.00" y2="91.40" stroke="#e4e4e4" stroke-width="0.4" />
<line x1="160.30" y1="97.60" x2="263.00" y2="97.60" stroke="#e4e4e4" stroke-width="0.4" />
<line x1="160.30" y1="103.80" x2="263.00" y2="103.80" stroke="#e4e4e4" stroke-width="0.4" />
<line x1="160.30" y1="110.00" x2="263.00" y2="110.00" stroke="#e4e4e4" stroke-width="0.4" />
<line x1="160.30" y1="116.20" x2="263.00" y2="116.20" stroke="#e4e4e4" stroke-width="0.4" />
<line x1="160.30" y1="122.40" x2="263.00" y2="122.40" stroke="#e4e4e4" stroke-width="0.4" />
<rect x="160.70" y="97.60" width="0.91" height="26.00" fill="url(#gb0)"/>
<rect x="161.55" y="97.60" width="0.91" height="23.09" fill="url(#gb1)"/>
<rect x="162.40" y="97.60" width="0.91" height="21.32" fill="url(#gb2)"/>
<rect x="163.25" y="97.60" width="0.91" height="20.45" fill="url(#gb0)"/>
<rect x="164.10" y="97.60" width="0.91" height="19.95" fill="url(#gb1)"/>
<rect x="164.95" y="97.60" width="0.91" height="19.72" fill="url(#gb2)"/>
<rect x="165.80" y="97.60" width="0.91" height="19.49" fill="url(#gb0)"/>
<rect x="166.65" y="97.60" width="0.91" height="19.20" fill="url(#gb1)"/>
<rect x="167.50" y="97.60" width="0.91" height="18.66" fill="url(#gb2)"/>
<rect x="168.35" y="97.60" width="0.91" height="18.12" fill="url(#gb0)"/>
<rect x="169.20" y="97.60" width="0.91" height="17.60" fill="url(#gb1)"/>
<rect x="170.05" y="97.60" width="0.91" height="17.18" fill="url(#gb2)"/>
<rect x="170.90" y="97.60" width="0.91" height="16.75" fill="url(#gb0)"/>
<rect x="171.75" y="97.60" width="0.91" height="16.27" fill="url(#gb1)"/>
<rect x="172.60" y="97.60" width="0.91" height="15.54" fill="#f0883a"/>
<rect x="173.45" y="97.60" width="0.91" height="14.81" fill="#f0883a"/>
<rect x="174.30" y="97.60" width="0.91" height="14.09" fill="url(#gb1)"/>
<rect x="175.15" y="97.60" width="0.91" height="12.96" fill="url(#gb2)"/>
<rect x="176.00" y="97.60" width="0.91" height="12.69" fill="url(#gb0)"/>
<rect x="176.85" y="97.60" width="0.91" height="12.41" fill="#f0883a"/>
<rect x="177.70" y="97.60" width="0.91" height="12.10" fill="#f0883a"/>
<rect x="178.55" y="97.60" width="0.91" height="11.79" fill="url(#gb0)"/>
<rect x="179.40" y="97.60" width="0.91" height="11.62" fill="url(#gb1)"/>
<rect x="180.25" y="97.60" width="0.91" height="11.50" fill="url(#gb2)"/>
<rect x="181.10" y="97.60" width="0.91" height="11.37" fill="url(#gb0)"/>
<rect x="181.95" y="97.60" width="0.91" height="11.14" fill="url(#gb1)"/>
<rect x="182.80" y="97.60" width="0.91" height="10.91" fill="url(#gb2)"/>
<rect x="183.65" y="97.60" width="0.91" height="10.70" fill="url(#gb0)"/>
<rect x="184.50" y="97.60" width="0.91" height="10.50" fill="url(#gb1)"/>
<rect x="185.35" y="97.60" width="0.91" height="10.31" fill="url(#gb2)"/>
<rect x="186.20" y="97.60" width="0.91" height="10.01" fill="url(#gb0)"/>
<rect x="187.05" y="97.60" width="0.91" height="9.70" fill="url(#gb1)"/>
<rect x="187.90" y="97.60" width="0.91" height="9.46" fill="url(#gb2)"/>
<rect x="188.75" y="97.60" width="0.91" height="9.34" fill="url(#gb0)"/>
<rect x="189.60" y="97.60" width="0.91" height="9.23" fill="url(#gb1)"/>
<rect x="190.45" y="97.60" width="0.91" height="9.02" fill="url(#gb2)"/>
<rect x="191.30" y="97.60" width="0.91" height="8.79" fill="url(#gb0)"/>
<rect x="192.15" y="97.60" width="0.91" height="8.58" fill="url(#gb1)"/>
<rect x="193.00" y="97.60" width="0.91" height="8.46" fill="url(#gb2)"/>
<rect x="193.85" y="97.60" width="0.91" height="8.35" fill="url(#gb0)"/>
<rect x="194.70" y="97.60" width="0.91" height="8.19" fill="url(#gb1)"/>
<rect x="195.55" y="97.60" width="0.91" height="8.01" fill="url(#gb2)"/>
<rect x="196.40" y="97.60" width="0.91" height="7.83" fill="#f0883a"/>
<rect x="197.25" y="97.60" width="0.91" height="7.65" fill="#f0883a"/>
<rect x="198.10" y="97.60" width="0.91" height="7.26" fill="#f0883a"/>
<rect x="198.95" y="97.60" width="0.91" height="6.79" fill="#f0883a"/>
<rect x="199.80" y="97.60" width="0.91" height="6.31" fill="url(#gb1)"/>
<rect x="200.65" y="97.60" width="0.91" height="5.95" fill="url(#gb2)"/>
<rect x="201.50" y="97.60" width="0.91" height="5.63" fill="url(#gb0)"/>
<rect x="202.35" y="97.60" width="0.91" height="5.31" fill="url(#gb1)"/>
<rect x="203.20" y="97.60" width="0.91" height="4.98" fill="url(#gb2)"/>
<rect x="204.05" y="97.60" width="0.91" height="4.66" fill="url(#gb0)"/>
<rect x="204.90" y="97.60" width="0.91" height="4.34" fill="url(#gb1)"/>
<rect x="205.75" y="97.60" width="0.91" height="4.11" fill="url(#gb2)"/>
<rect x="206.60" y="97.60" width="0.91" height="3.88" fill="url(#gb0)"/>
<rect x="207.45" y="97.60" width="0.91" height="3.66" fill="url(#gb1)"/>
<rect x="208.30" y="97.60" width="0.91" height="3.44" fill="url(#gb2)"/>
<rect x="209.15" y="97.60" width="0.91" height="3.22" fill="url(#gb0)"/>
<rect x="210.00" y="97.60" width="0.91" height="3.00" fill="url(#gb1)"/>
<rect x="210.85" y="97.60" width="0.91" height="2.83" fill="url(#gb2)"/>
<rect x="211.70" y="97.60" width="0.91" height="2.66" fill="url(#gb0)"/>
<rect x="212.55" y="97.60" width="0.91" height="2.49" fill="url(#gb1)"/>
<rect x="213.40" y="97.60" width="0.91" height="2.32" fill="#f0883a"/>
<rect x="214.25" y="97.60" width="0.91" height="2.15" fill="#f0883a"/>
<rect x="215.10" y="97.60" width="0.91" height="1.99" fill="url(#gb1)"/>
<rect x="215.95" y="97.60" width="0.91" height="1.89" fill="url(#gb2)"/>
<rect x="216.80" y="97.60" width="0.91" height="1.78" fill="url(#gb0)"/>
<rect x="217.65" y="97.60" width="0.91" height="1.68" fill="url(#gb1)"/>
<rect x="218.50" y="97.60" width="0.91" height="1.58" fill="url(#gb2)"/>
<rect x="219.35" y="97.60" width="0.91" height="1.48" fill="url(#gb0)"/>
<rect x="220.20" y="97.60" width="0.91" height="1.38" fill="url(#gb1)"/>
<rect x="221.05" y="97.60" width="0.91" height="1.30" fill="url(#gb2)"/>
<rect x="221.90" y="97.60" width="0.91" height="1.21" fill="url(#gb0)"/>
<rect x="222.75" y="97.60" width="0.91" height="1.13" fill="url(#gb1)"/>
<rect x="223.60" y="97.60" width="0.91" height="1.04" fill="url(#gb2)"/>
<rect x="224.45" y="97.60" width="0.91" height="0.96" fill="url(#gb0)"/>
<rect x="225.30" y="97.60" width="0.91" height="0.86" fill="url(#gb1)"/>
<rect x="226.15" y="97.60" width="0.91" height="0.76" fill="url(#gb2)"/>
<rect x="227.00" y="97.60" width="0.91" height="0.66" fill="url(#gb0)"/>
<rect x="227.85" y="97.60" width="0.91" height="0.56" fill="url(#gb1)"/>
<rect x="228.70" y="97.60" width="0.91" height="0.46" fill="url(#gb2)"/>
<rect x="229.55" y="97.60" width="0.91" height="0.35" fill="url(#gb0)"/>
<rect x="230.40" y="97.60" width="0.91" height="0.26" fill="url(#gb1)"/>
<rect x="231.25" y="97.60" width="0.91" height="0.18" fill="url(#gb2)"/>
<rect x="232.10" y="97.60" width="0.91" height="0.09" fill="url(#gb0)"/>
<rect x="232.95" y="97.60" width="0.91" height="0.01" fill="url(#gb1)"/>
<rect x="233.80" y="96.80" width="0.91" height="0.80" fill="#25b668"/>
<rect x="234.65" y="96.49" width="0.91" height="1.11" fill="#2cc272"/>
<rect x="235.50" y="96.34" width="0.91" height="1.26" fill="#28bc6c"/>
<rect x="236.35" y="96.19" width="0.91" height="1.41" fill="#25b668"/>
<rect x="237.20" y="96.04" width="0.91" height="1.56" fill="#28bc6c"/>
<rect x="238.05" y="95.89" width="0.91" height="1.71" fill="#22b064"/>
<rect x="238.90" y="95.74" width="0.91" height="1.86" fill="#22b064"/>
<rect x="239.75" y="95.59" width="0.91" height="2.01" fill="#25b668"/>
<rect x="240.60" y="95.45" width="0.91" height="2.15" fill="#2cc272"/>
<rect x="241.45" y="95.30" width="0.91" height="2.30" fill="#2cc272"/>
<rect x="242.30" y="94.00" width="0.91" height="3.60" fill="#f0883a"/>
<rect x="243.15" y="94.00" width="0.91" height="3.60" fill="#f0883a"/>
<rect x="244.00" y="94.00" width="0.91" height="3.60" fill="#2cc272"/>
<rect x="244.85" y="94.00" width="0.91" height="3.60" fill="#28bc6c"/>
<rect x="245.70" y="92.21" width="0.91" height="5.39" fill="#f0883a"/>
<rect x="246.55" y="92.09" width="0.91" height="5.51" fill="#f0883a"/>
<rect x="247.40" y="91.97" width="0.91" height="5.63" fill="#25b668"/>
<rect x="248.25" y="91.85" width="0.91" height="5.75" fill="#25b668"/>
<rect x="249.10" y="91.73" width="0.91" height="5.87" fill="#25b668"/>
<rect x="249.95" y="91.61" width="0.91" height="5.99" fill="#f0883a"/>
<rect x="250.80" y="89.13" width="0.91" height="8.47" fill="#f0883a"/>
<rect x="251.65" y="89.04" width="0.91" height="8.56" fill="#f0883a"/>
<rect x="252.50" y="88.95" width="0.91" height="8.65" fill="#f0883a"/>
<rect x="253.35" y="88.87" width="0.91" height="8.73" fill="#f0883a"/>
<rect x="254.20" y="87.58" width="0.91" height="10.02" fill="#f0883a"/>
<rect x="255.05" y="87.40" width="0.91" height="10.20" fill="#f0883a"/>
<rect x="255.90" y="87.22" width="0.91" height="10.38" fill="#f0883a"/>
<rect x="256.75" y="84.47" width="0.91" height="13.13" fill="#f0883a"/>
<rect x="257.60" y="84.29" width="0.91" height="13.31" fill="#f0883a"/>
<rect x="258.45" y="84.11" width="0.91" height="13.49" fill="#f0883a"/>
<rect x="259.30" y="81.93" width="0.91" height="15.67" fill="#f0883a"/>
<rect x="260.15" y="81.63" width="0.91" height="15.97" fill="#f0883a"/>
<rect x="261.00" y="77.71" width="0.91" height="19.89" fill="#f0883a"/>
<text x="157.3" y="73.6" font-size="2.2" fill="#777" text-anchor="middle" stroke="#777" stroke-width="0.12"  text-rendering="geometricPrecision">4</text>
<text x="157.3" y="79.8" font-size="2.2" fill="#777" text-anchor="middle" stroke="#777" stroke-width="0.12"  text-rendering="geometricPrecision">3</text>
<text x="157.3" y="85.99999999999999" font-size="2.2" fill="#777" text-anchor="middle" stroke="#777" stroke-width="0.12"  text-rendering="geometricPrecision">2</text>
<text x="157.3" y="92.19999999999999" font-size="2.2" fill="#777" text-anchor="middle" stroke="#777" stroke-width="0.12"  text-rendering="geometricPrecision">1</text>
<text x="157.3" y="98.39999999999999" font-size="2.2" fill="#777" text-anchor="middle" stroke="#777" stroke-width="0.12"  text-rendering="geometricPrecision">0</text>
<text x="157.3" y="104.6" font-size="2.2" fill="#777" text-anchor="middle" stroke="#777" stroke-width="0.12"  text-rendering="geometricPrecision">-1</text>
<text x="157.3" y="110.8" font-size="2.2" fill="#777" text-anchor="middle" stroke="#777" stroke-width="0.12"  text-rendering="geometricPrecision">-2</text>
<text x="157.3" y="116.99999999999999" font-size="2.2" fill="#777" text-anchor="middle" stroke="#777" stroke-width="0.12"  text-rendering="geometricPrecision">-3</text>
<text x="157.3" y="123.19999999999999" font-size="2.2" fill="#777" text-anchor="middle" stroke="#777" stroke-width="0.12"  text-rendering="geometricPrecision">-4</text>
<text x="157.3" y="129.4" font-size="2.2" fill="#777" text-anchor="middle" stroke="#777" stroke-width="0.12"  text-rendering="geometricPrecision">-5</text>
<text x="154.3" y="97" font-size="2.2" fill="#777" text-anchor="middle" stroke="#777" stroke-width="0.12" transform="rotate(-90 154.3 97)" text-rendering="geometricPrecision">Rad-score</text>
<rect x="234.3" y="118.9" width="2.6" height="2.5" fill="#4a7a3a"/>
<rect x="234.3" y="123.4" width="2.6" height="2.4" fill="#8a6a4a"/>
<text x="239.8" y="121.3" font-size="3.0" fill="#222" text-anchor="start" textLength="19.5" lengthAdjust="spacingAndGlyphs" stroke="#222" stroke-width="0.12"  text-rendering="geometricPrecision">Non-RP Group</text>
<text x="239.8" y="125.9" font-size="3.0" fill="#222" text-anchor="start" textLength="13.4" lengthAdjust="spacingAndGlyphs" stroke="#222" stroke-width="0.12"  text-rendering="geometricPrecision">RP Group</text>
<text x="210.2" y="135.0" font-size="5.1" fill="#1a1a1a" text-anchor="middle" textLength="46" lengthAdjust="spacingAndGlyphs" stroke="#1a1a1a" stroke-width="0.04" >Radiomics signature</text>
<rect x="175.2" y="141.8" width="77.9" height="61.2" fill="#fff" stroke="#b4b4b4" stroke-width="0.5"/>
<line x1="175.20" y1="201.50" x2="252.60" y2="201.50" stroke="#ececec" stroke-width="0.4" />
<line x1="175.20" y1="190.20" x2="252.60" y2="190.20" stroke="#ececec" stroke-width="0.4" />
<line x1="175.20" y1="178.90" x2="252.60" y2="178.90" stroke="#ececec" stroke-width="0.4" />
<line x1="175.20" y1="167.60" x2="252.60" y2="167.60" stroke="#ececec" stroke-width="0.4" />
<line x1="175.20" y1="156.30" x2="252.60" y2="156.30" stroke="#ececec" stroke-width="0.4" />
<line x1="175.20" y1="145.00" x2="252.60" y2="145.00" stroke="#ececec" stroke-width="0.4" />
<rect x="185.2" y="143.6" width="57.6" height="57.9" fill="#ebebeb" stroke="#bbb" stroke-width="0.3"/>
<path d="M185.2,201.5 V176.8 H187.5 V174 H190 V171 H192.5 V168 H195 V165.3 H197.5 V162 H200 V159 H202.5 V156.5 H205 V153 H207.5 V150.5 H210 V147.5 H212 V146 H215 V145.3 H224.5 V143.9 H242.8 V143.9 V201.5 Z" fill="#0808f2"/>
<line x1="185.20" y1="201.50" x2="242.80" y2="143.80" stroke="#6a7cf4" stroke-width="0.55" />
<text x="230.5" y="149.5" font-size="3.0" fill="#111" text-anchor="middle" textLength="26" lengthAdjust="spacingAndGlyphs" stroke="#111" stroke-width="0.12"  text-rendering="geometricPrecision">0.842 (0.771-0.913)</text>
<text x="223.2" y="175.6" font-size="3.0" fill="#111" text-anchor="middle" textLength="17.5" lengthAdjust="spacingAndGlyphs" stroke="#111" stroke-width="0.12"  text-rendering="geometricPrecision">AUC: 0.842</text>
<line x1="175.20" y1="143.80" x2="175.20" y2="201.50" stroke="#333" stroke-width="0.45" />
<line x1="185.20" y1="203.60" x2="242.80" y2="203.60" stroke="#333" stroke-width="0.45" />
<line x1="173.80" y1="201.50" x2="175.20" y2="201.50" stroke="#333" stroke-width="0.4" />
<text x="171.0" y="201.5" font-size="3.0" fill="#333" text-anchor="middle" stroke="#333" stroke-width="0.12" transform="rotate(-90 171.0 201.5)" text-rendering="geometricPrecision">0.0</text>
<line x1="173.80" y1="190.20" x2="175.20" y2="190.20" stroke="#333" stroke-width="0.4" />
<text x="171.0" y="190.2" font-size="3.0" fill="#333" text-anchor="middle" stroke="#333" stroke-width="0.12" transform="rotate(-90 171.0 190.2)" text-rendering="geometricPrecision">0.2</text>
<line x1="173.80" y1="178.90" x2="175.20" y2="178.90" stroke="#333" stroke-width="0.4" />
<text x="171.0" y="178.9" font-size="3.0" fill="#333" text-anchor="middle" stroke="#333" stroke-width="0.12" transform="rotate(-90 171.0 178.9)" text-rendering="geometricPrecision">0.4</text>
<line x1="173.80" y1="167.60" x2="175.20" y2="167.60" stroke="#333" stroke-width="0.4" />
<text x="171.0" y="167.6" font-size="3.0" fill="#333" text-anchor="middle" stroke="#333" stroke-width="0.12" transform="rotate(-90 171.0 167.6)" text-rendering="geometricPrecision">0.6</text>
<line x1="173.80" y1="156.30" x2="175.20" y2="156.30" stroke="#333" stroke-width="0.4" />
<text x="171.0" y="156.3" font-size="3.0" fill="#333" text-anchor="middle" stroke="#333" stroke-width="0.12" transform="rotate(-90 171.0 156.3)" text-rendering="geometricPrecision">0.8</text>
<line x1="173.80" y1="145.00" x2="175.20" y2="145.00" stroke="#333" stroke-width="0.4" />
<text x="171.0" y="145.0" font-size="3.0" fill="#333" text-anchor="middle" stroke="#333" stroke-width="0.12" transform="rotate(-90 171.0 145.0)" text-rendering="geometricPrecision">1.0</text>
<line x1="185.70" y1="203.60" x2="185.70" y2="205.00" stroke="#333" stroke-width="0.4" />
<text x="185.7" y="210.5" font-size="3.0" fill="#333" text-anchor="middle" stroke="#333" stroke-width="0.12"  text-rendering="geometricPrecision">1.0</text>
<line x1="197.10" y1="203.60" x2="197.10" y2="205.00" stroke="#333" stroke-width="0.4" />
<text x="197.1" y="210.5" font-size="3.0" fill="#333" text-anchor="middle" stroke="#333" stroke-width="0.12"  text-rendering="geometricPrecision">0.8</text>
<line x1="208.50" y1="203.60" x2="208.50" y2="205.00" stroke="#333" stroke-width="0.4" />
<text x="208.5" y="210.5" font-size="3.0" fill="#333" text-anchor="middle" stroke="#333" stroke-width="0.12"  text-rendering="geometricPrecision">0.6</text>
<line x1="219.90" y1="203.60" x2="219.90" y2="205.00" stroke="#333" stroke-width="0.4" />
<text x="219.89999999999998" y="210.5" font-size="3.0" fill="#333" text-anchor="middle" stroke="#333" stroke-width="0.12"  text-rendering="geometricPrecision">0.4</text>
<line x1="231.30" y1="203.60" x2="231.30" y2="205.00" stroke="#333" stroke-width="0.4" />
<text x="231.29999999999998" y="210.5" font-size="3.0" fill="#333" text-anchor="middle" stroke="#333" stroke-width="0.12"  text-rendering="geometricPrecision">0.2</text>
<line x1="242.70" y1="203.60" x2="242.70" y2="205.00" stroke="#333" stroke-width="0.4" />
<text x="242.7" y="210.5" font-size="3.0" fill="#333" text-anchor="middle" stroke="#333" stroke-width="0.12"  text-rendering="geometricPrecision">0.0</text>
<text x="213.4" y="214.9" font-size="2.9" fill="#333" text-anchor="middle" stroke="#333" stroke-width="0.12"  text-rendering="geometricPrecision">Specificity</text>
<text x="165.5" y="172" font-size="2.9" fill="#333" text-anchor="middle" stroke="#333" stroke-width="0.12" transform="rotate(-90 165.5 172)" text-rendering="geometricPrecision">Sensitivity</text>
<text x="213.4" y="221.1" font-size="5.1" fill="#1a1a1a" text-anchor="middle" textLength="25" lengthAdjust="spacingAndGlyphs" stroke="#1a1a1a" stroke-width="0.04" >ROC curve</text>
<line x1="173.40" y1="228.50" x2="254.50" y2="228.50" stroke="#444" stroke-width="0.5" />
<line x1="254.50" y1="228.50" x2="254.50" y2="289.60" stroke="#777" stroke-width="0.45" />
<line x1="173.40" y1="228.50" x2="173.40" y2="289.60" stroke="#444" stroke-width="0.5" />
<line x1="173.40" y1="289.80" x2="254.50" y2="289.80" stroke="#cfcfcf" stroke-width="0.9" />
<line x1="193.13" y1="228.50" x2="193.13" y2="230.20" stroke="#444" stroke-width="0.35" />
<line x1="215.18" y1="228.50" x2="215.18" y2="230.20" stroke="#444" stroke-width="0.35" />
<line x1="202.64" y1="228.50" x2="202.64" y2="230.20" stroke="#444" stroke-width="0.35" />
<line x1="219.48" y1="228.50" x2="219.48" y2="230.20" stroke="#444" stroke-width="0.35" />
<line x1="221.05" y1="228.50" x2="221.05" y2="230.20" stroke="#444" stroke-width="0.35" />
<line x1="180.72" y1="228.50" x2="180.72" y2="230.20" stroke="#444" stroke-width="0.35" />
<line x1="176.95" y1="228.50" x2="176.95" y2="230.20" stroke="#444" stroke-width="0.35" />
<line x1="236.30" y1="228.50" x2="236.30" y2="230.20" stroke="#444" stroke-width="0.35" />
<line x1="194.67" y1="228.50" x2="194.67" y2="230.20" stroke="#444" stroke-width="0.35" />
<line x1="192.87" y1="228.50" x2="192.87" y2="230.20" stroke="#444" stroke-width="0.35" />
<line x1="247.69" y1="228.50" x2="247.69" y2="230.20" stroke="#444" stroke-width="0.35" />
<line x1="209.86" y1="228.50" x2="209.86" y2="230.20" stroke="#444" stroke-width="0.35" />
<line x1="236.23" y1="228.50" x2="236.23" y2="230.20" stroke="#444" stroke-width="0.35" />
<line x1="210.30" y1="228.50" x2="210.30" y2="230.20" stroke="#444" stroke-width="0.35" />
<line x1="222.01" y1="228.50" x2="222.01" y2="230.20" stroke="#444" stroke-width="0.35" />
<line x1="186.84" y1="228.50" x2="186.84" y2="230.20" stroke="#444" stroke-width="0.35" />
<line x1="221.71" y1="228.50" x2="221.71" y2="230.20" stroke="#444" stroke-width="0.35" />
<line x1="238.50" y1="228.50" x2="238.50" y2="230.20" stroke="#444" stroke-width="0.35" />
<line x1="213.67" y1="228.50" x2="213.67" y2="230.20" stroke="#444" stroke-width="0.35" />
<line x1="229.37" y1="228.50" x2="229.37" y2="230.20" stroke="#444" stroke-width="0.35" />
<line x1="224.34" y1="228.50" x2="224.34" y2="230.20" stroke="#444" stroke-width="0.35" />
<line x1="180.61" y1="228.50" x2="180.61" y2="230.20" stroke="#444" stroke-width="0.35" />
<line x1="230.59" y1="228.50" x2="230.59" y2="230.20" stroke="#444" stroke-width="0.35" />
<line x1="218.56" y1="228.50" x2="218.56" y2="230.20" stroke="#444" stroke-width="0.35" />
<line x1="197.69" y1="228.50" x2="197.69" y2="230.20" stroke="#444" stroke-width="0.35" />
<line x1="178.23" y1="228.50" x2="178.23" y2="230.20" stroke="#444" stroke-width="0.35" />
<line x1="238.32" y1="228.50" x2="238.32" y2="230.20" stroke="#444" stroke-width="0.35" />
<line x1="210.04" y1="228.50" x2="210.04" y2="230.20" stroke="#444" stroke-width="0.35" />
<line x1="227.76" y1="228.50" x2="227.76" y2="230.20" stroke="#444" stroke-width="0.35" />
<line x1="239.27" y1="228.50" x2="239.27" y2="230.20" stroke="#444" stroke-width="0.35" />
<line x1="227.42" y1="228.50" x2="227.42" y2="230.20" stroke="#444" stroke-width="0.35" />
<line x1="242.32" y1="228.50" x2="242.32" y2="230.20" stroke="#444" stroke-width="0.35" />
<line x1="204.44" y1="228.50" x2="204.44" y2="230.20" stroke="#444" stroke-width="0.35" />
<line x1="233.67" y1="228.50" x2="233.67" y2="230.20" stroke="#444" stroke-width="0.35" />
<line x1="208.01" y1="228.50" x2="208.01" y2="230.20" stroke="#444" stroke-width="0.35" />
<line x1="243.36" y1="228.50" x2="243.36" y2="230.20" stroke="#444" stroke-width="0.35" />
<line x1="239.28" y1="228.50" x2="239.28" y2="230.20" stroke="#444" stroke-width="0.35" />
<line x1="183.02" y1="228.50" x2="183.02" y2="230.20" stroke="#444" stroke-width="0.35" />
<line x1="185.79" y1="228.50" x2="185.79" y2="230.20" stroke="#444" stroke-width="0.35" />
<line x1="191.62" y1="228.50" x2="191.62" y2="230.20" stroke="#444" stroke-width="0.35" />
<line x1="245.51" y1="228.50" x2="245.51" y2="230.20" stroke="#444" stroke-width="0.35" />
<line x1="207.40" y1="228.50" x2="207.40" y2="230.20" stroke="#444" stroke-width="0.35" />
<line x1="221.12" y1="228.50" x2="221.12" y2="230.20" stroke="#444" stroke-width="0.35" />
<line x1="197.67" y1="228.50" x2="197.67" y2="230.20" stroke="#444" stroke-width="0.35" />
<line x1="212.52" y1="228.50" x2="212.52" y2="230.20" stroke="#444" stroke-width="0.35" />
<line x1="203.78" y1="228.50" x2="203.78" y2="230.20" stroke="#444" stroke-width="0.35" />
<line x1="201.27" y1="228.50" x2="201.27" y2="230.20" stroke="#444" stroke-width="0.35" />
<line x1="218.13" y1="228.50" x2="218.13" y2="230.20" stroke="#444" stroke-width="0.35" />
<line x1="218.07" y1="228.50" x2="218.07" y2="230.20" stroke="#444" stroke-width="0.35" />
<line x1="241.10" y1="228.50" x2="241.10" y2="230.20" stroke="#444" stroke-width="0.35" />
<line x1="225.10" y1="228.50" x2="225.10" y2="230.20" stroke="#444" stroke-width="0.35" />
<line x1="242.88" y1="228.50" x2="242.88" y2="230.20" stroke="#444" stroke-width="0.35" />
<line x1="237.66" y1="228.50" x2="237.66" y2="230.20" stroke="#444" stroke-width="0.35" />
<line x1="247.35" y1="228.50" x2="247.35" y2="230.20" stroke="#444" stroke-width="0.35" />
<line x1="224.33" y1="228.50" x2="224.33" y2="230.20" stroke="#444" stroke-width="0.35" />
<line x1="187.74" y1="228.50" x2="187.74" y2="230.20" stroke="#444" stroke-width="0.35" />
<line x1="237.97" y1="228.50" x2="237.97" y2="230.20" stroke="#444" stroke-width="0.35" />
<line x1="245.45" y1="228.50" x2="245.45" y2="230.20" stroke="#444" stroke-width="0.35" />
<line x1="241.14" y1="228.50" x2="241.14" y2="230.20" stroke="#444" stroke-width="0.35" />
<line x1="216.98" y1="228.50" x2="216.98" y2="230.20" stroke="#444" stroke-width="0.35" />
<line x1="227.39" y1="228.50" x2="227.39" y2="230.20" stroke="#444" stroke-width="0.35" />
<line x1="191.20" y1="228.50" x2="191.20" y2="230.20" stroke="#444" stroke-width="0.35" />
<line x1="235.88" y1="228.50" x2="235.88" y2="230.20" stroke="#444" stroke-width="0.35" />
<line x1="217.29" y1="228.50" x2="217.29" y2="230.20" stroke="#444" stroke-width="0.35" />
<line x1="196.52" y1="228.50" x2="196.52" y2="230.20" stroke="#444" stroke-width="0.35" />
<line x1="180.57" y1="228.50" x2="180.57" y2="230.20" stroke="#444" stroke-width="0.35" />
<line x1="237.48" y1="228.50" x2="237.48" y2="230.20" stroke="#444" stroke-width="0.35" />
<line x1="247.27" y1="228.50" x2="247.27" y2="230.20" stroke="#444" stroke-width="0.35" />
<line x1="182.37" y1="228.50" x2="182.37" y2="230.20" stroke="#444" stroke-width="0.35" />
<line x1="233.64" y1="228.50" x2="233.64" y2="230.20" stroke="#444" stroke-width="0.35" />
<line x1="205.55" y1="228.50" x2="205.55" y2="230.20" stroke="#444" stroke-width="0.35" />
<line x1="186.86" y1="228.50" x2="186.86" y2="230.20" stroke="#444" stroke-width="0.35" />
<line x1="197.16" y1="228.50" x2="197.16" y2="230.20" stroke="#444" stroke-width="0.35" />
<line x1="231.35" y1="228.50" x2="231.35" y2="230.20" stroke="#444" stroke-width="0.35" />
<line x1="238.84" y1="228.50" x2="238.84" y2="230.20" stroke="#444" stroke-width="0.35" />
<line x1="179.18" y1="228.50" x2="179.18" y2="230.20" stroke="#444" stroke-width="0.35" />
<line x1="220.25" y1="228.50" x2="220.25" y2="230.20" stroke="#444" stroke-width="0.35" />
<line x1="179.24" y1="228.50" x2="179.24" y2="230.20" stroke="#444" stroke-width="0.35" />
<line x1="227.73" y1="228.50" x2="227.73" y2="230.20" stroke="#444" stroke-width="0.35" />
<line x1="199.83" y1="228.50" x2="199.83" y2="230.20" stroke="#444" stroke-width="0.35" />
<line x1="239.43" y1="228.50" x2="239.43" y2="230.20" stroke="#444" stroke-width="0.35" />
<line x1="246.61" y1="228.50" x2="246.61" y2="230.20" stroke="#444" stroke-width="0.35" />
<line x1="212.39" y1="228.50" x2="212.39" y2="230.20" stroke="#444" stroke-width="0.35" />
<line x1="247.89" y1="228.50" x2="247.89" y2="230.20" stroke="#444" stroke-width="0.35" />
<line x1="198.30" y1="228.50" x2="198.30" y2="230.20" stroke="#444" stroke-width="0.35" />
<line x1="181.54" y1="228.50" x2="181.54" y2="230.20" stroke="#444" stroke-width="0.35" />
<line x1="219.18" y1="228.50" x2="219.18" y2="230.20" stroke="#444" stroke-width="0.35" />
<line x1="178.26" y1="228.50" x2="178.26" y2="230.20" stroke="#444" stroke-width="0.35" />
<line x1="190.21" y1="228.50" x2="190.21" y2="230.20" stroke="#444" stroke-width="0.35" />
<line x1="205.37" y1="228.50" x2="205.37" y2="230.20" stroke="#444" stroke-width="0.35" />
<line x1="172.00" y1="288.20" x2="173.40" y2="288.20" stroke="#444" stroke-width="0.4" />
<text x="168.9" y="288.2" font-size="2.8" fill="#333" text-anchor="middle" stroke="#333" stroke-width="0.12" transform="rotate(-90 168.9 288.2)" text-rendering="geometricPrecision">0.0</text>
<line x1="176.00" y1="289.80" x2="176.00" y2="291.20" stroke="#444" stroke-width="0.4" />
<text x="176.0" y="295.6" font-size="2.8" fill="#333" text-anchor="middle" stroke="#333" stroke-width="0.12"  text-rendering="geometricPrecision">0.0</text>
<line x1="172.00" y1="276.60" x2="173.40" y2="276.60" stroke="#444" stroke-width="0.4" />
<text x="168.9" y="276.59999999999997" font-size="2.8" fill="#333" text-anchor="middle" stroke="#333" stroke-width="0.12" transform="rotate(-90 168.9 276.6)" text-rendering="geometricPrecision">0.2</text>
<line x1="191.05" y1="289.80" x2="191.05" y2="291.20" stroke="#444" stroke-width="0.4" />
<text x="191.05" y="295.6" font-size="2.8" fill="#333" text-anchor="middle" stroke="#333" stroke-width="0.12"  text-rendering="geometricPrecision">0.2</text>
<line x1="172.00" y1="265.00" x2="173.40" y2="265.00" stroke="#444" stroke-width="0.4" />
<text x="168.9" y="265.0" font-size="2.8" fill="#333" text-anchor="middle" stroke="#333" stroke-width="0.12" transform="rotate(-90 168.9 265.0)" text-rendering="geometricPrecision">0.4</text>
<line x1="206.10" y1="289.80" x2="206.10" y2="291.20" stroke="#444" stroke-width="0.4" />
<text x="206.1" y="295.6" font-size="2.8" fill="#333" text-anchor="middle" stroke="#333" stroke-width="0.12"  text-rendering="geometricPrecision">0.4</text>
<line x1="172.00" y1="253.40" x2="173.40" y2="253.40" stroke="#444" stroke-width="0.4" />
<text x="168.9" y="253.39999999999998" font-size="2.8" fill="#333" text-anchor="middle" stroke="#333" stroke-width="0.12" transform="rotate(-90 168.9 253.4)" text-rendering="geometricPrecision">0.6</text>
<line x1="221.15" y1="289.80" x2="221.15" y2="291.20" stroke="#444" stroke-width="0.4" />
<text x="221.15" y="295.6" font-size="2.8" fill="#333" text-anchor="middle" stroke="#333" stroke-width="0.12"  text-rendering="geometricPrecision">0.6</text>
<line x1="172.00" y1="241.80" x2="173.40" y2="241.80" stroke="#444" stroke-width="0.4" />
<text x="168.9" y="241.79999999999998" font-size="2.8" fill="#333" text-anchor="middle" stroke="#333" stroke-width="0.12" transform="rotate(-90 168.9 241.8)" text-rendering="geometricPrecision">0.8</text>
<line x1="236.20" y1="289.80" x2="236.20" y2="291.20" stroke="#444" stroke-width="0.4" />
<text x="236.2" y="295.6" font-size="2.8" fill="#333" text-anchor="middle" stroke="#333" stroke-width="0.12"  text-rendering="geometricPrecision">0.8</text>
<line x1="172.00" y1="230.20" x2="173.40" y2="230.20" stroke="#444" stroke-width="0.4" />
<text x="168.9" y="230.2" font-size="2.8" fill="#333" text-anchor="middle" stroke="#333" stroke-width="0.12" transform="rotate(-90 168.9 230.2)" text-rendering="geometricPrecision">1.0</text>
<line x1="251.25" y1="289.80" x2="251.25" y2="291.20" stroke="#444" stroke-width="0.4" />
<text x="251.25" y="295.6" font-size="2.8" fill="#333" text-anchor="middle" stroke="#333" stroke-width="0.12"  text-rendering="geometricPrecision">1.0</text>
<text x="163.0" y="258" font-size="2.6" fill="#333" text-anchor="middle" stroke="#333" stroke-width="0.12" transform="rotate(-90 163 258)" text-rendering="geometricPrecision">Actual Probability</text>
<line x1="176.00" y1="288.20" x2="252.30" y2="229.60" stroke="#b0b0b0" stroke-width="0.55" />
<polyline points="175.80,288.60 177.00,287.80 185.00,279.80 191.00,274.60 197.90,268.90 203.00,265.00 206.90,262.70 210.00,261.40 212.50,260.80 215.00,260.20 217.50,259.20 220.00,257.40 225.00,252.90 230.00,249.50 235.00,246.00 240.00,242.60 246.70,237.90" fill="none" stroke="#8a8a8a" stroke-width="0.6" stroke-linejoin="round" />
<polyline points="175.80,288.20 177.00,287.20 185.00,279.00 191.00,273.50 197.90,267.70 203.00,264.00 206.90,261.90 210.00,260.60 212.50,259.80 215.00,258.90 217.50,257.60 220.00,255.80 225.00,251.30 230.00,248.00 235.00,244.60 240.00,241.50 247.20,236.90" fill="none" stroke="#505050" stroke-width="0.65" stroke-linejoin="round" />
<line x1="221.00" y1="272.20" x2="225.30" y2="272.20" stroke="#555" stroke-width="0.5" />
<text x="226.3" y="273.2" font-size="2.9" fill="#222" text-anchor="start" textLength="11.5" lengthAdjust="spacingAndGlyphs" stroke="#222" stroke-width="0.12"  text-rendering="geometricPrecision">Apparent</text>
<line x1="221.00" y1="275.00" x2="225.30" y2="275.00" stroke="#888" stroke-width="0.5" />
<text x="226.3" y="276.0" font-size="2.9" fill="#222" text-anchor="start" textLength="18.6" lengthAdjust="spacingAndGlyphs" stroke="#222" stroke-width="0.12"  text-rendering="geometricPrecision">Bias-corrected</text>
<line x1="221.00" y1="277.80" x2="225.30" y2="277.80" stroke="#aaa" stroke-width="0.5" />
<text x="226.3" y="278.8" font-size="2.9" fill="#222" text-anchor="start" textLength="6.5" lengthAdjust="spacingAndGlyphs" stroke="#222" stroke-width="0.12"  text-rendering="geometricPrecision">Ideal</text>
<text x="213.4" y="301.2" font-size="5.1" fill="#1a1a1a" text-anchor="middle" textLength="38.8" lengthAdjust="spacingAndGlyphs" stroke="#1a1a1a" stroke-width="0.04" >Calibration curve</text>
<text x="273.4" y="65.2" font-size="3.2" fill="#222" text-anchor="start" textLength="10.5" lengthAdjust="spacingAndGlyphs" stroke="#222" stroke-width="0.12"  text-rendering="geometricPrecision">Points</text>
<text x="273.4" y="76.6" font-size="3.2" fill="#222" text-anchor="start" textLength="17.5" lengthAdjust="spacingAndGlyphs" stroke="#222" stroke-width="0.12"  text-rendering="geometricPrecision">Tumor stage</text>
<text x="273.4" y="86.5" font-size="3.2" fill="#222" text-anchor="start" textLength="3.5" lengthAdjust="spacingAndGlyphs" stroke="#222" stroke-width="0.12"  text-rendering="geometricPrecision">V5</text>
<text x="273.4" y="96.9" font-size="3.2" fill="#222" text-anchor="start" textLength="6.6" lengthAdjust="spacingAndGlyphs" stroke="#222" stroke-width="0.12"  text-rendering="geometricPrecision">MLD</text>
<text x="273.4" y="107.5" font-size="3.2" fill="#222" text-anchor="start" textLength="15.9" lengthAdjust="spacingAndGlyphs" stroke="#222" stroke-width="0.12"  text-rendering="geometricPrecision">Rad-Score</text>
<text x="273.4" y="117.7" font-size="3.2" fill="#222" text-anchor="start" textLength="16.9" lengthAdjust="spacingAndGlyphs" stroke="#222" stroke-width="0.12"  text-rendering="geometricPrecision">Total Points</text>
<text x="273.4" y="128.5" font-size="3.2" fill="#222" text-anchor="start" textLength="40.2" lengthAdjust="spacingAndGlyphs" stroke="#222" stroke-width="0.12"  text-rendering="geometricPrecision">Radiation Pneumonitis Prob.</text>
<line x1="303.80" y1="63.80" x2="392.50" y2="63.80" stroke="#4a4a4a" stroke-width="0.45" />
<line x1="303.80" y1="63.80" x2="303.80" y2="62.90" stroke="#555" stroke-width="0.4" />
<text x="303.8" y="62.5" font-size="2.4" fill="#333" text-anchor="middle" stroke="#333" stroke-width="0.12"  text-rendering="geometricPrecision">0</text>
<line x1="312.67" y1="63.80" x2="312.67" y2="62.90" stroke="#555" stroke-width="0.4" />
<text x="312.67" y="62.5" font-size="2.4" fill="#333" text-anchor="middle" stroke="#333" stroke-width="0.12"  text-rendering="geometricPrecision">10</text>
<line x1="321.54" y1="63.80" x2="321.54" y2="62.90" stroke="#555" stroke-width="0.4" />
<text x="321.54" y="62.5" font-size="2.4" fill="#333" text-anchor="middle" stroke="#333" stroke-width="0.12"  text-rendering="geometricPrecision">20</text>
<line x1="330.41" y1="63.80" x2="330.41" y2="62.90" stroke="#555" stroke-width="0.4" />
<text x="330.41" y="62.5" font-size="2.4" fill="#333" text-anchor="middle" stroke="#333" stroke-width="0.12"  text-rendering="geometricPrecision">30</text>
<line x1="339.28" y1="63.80" x2="339.28" y2="62.90" stroke="#555" stroke-width="0.4" />
<text x="339.28000000000003" y="62.5" font-size="2.4" fill="#333" text-anchor="middle" stroke="#333" stroke-width="0.12"  text-rendering="geometricPrecision">40</text>
<line x1="348.15" y1="63.80" x2="348.15" y2="62.90" stroke="#555" stroke-width="0.4" />
<text x="348.15" y="62.5" font-size="2.4" fill="#333" text-anchor="middle" stroke="#333" stroke-width="0.12"  text-rendering="geometricPrecision">50</text>
<line x1="357.02" y1="63.80" x2="357.02" y2="62.90" stroke="#555" stroke-width="0.4" />
<text x="357.02" y="62.5" font-size="2.4" fill="#333" text-anchor="middle" stroke="#333" stroke-width="0.12"  text-rendering="geometricPrecision">60</text>
<line x1="365.89" y1="63.80" x2="365.89" y2="62.90" stroke="#555" stroke-width="0.4" />
<text x="365.89" y="62.5" font-size="2.4" fill="#333" text-anchor="middle" stroke="#333" stroke-width="0.12"  text-rendering="geometricPrecision">70</text>
<line x1="374.76" y1="63.80" x2="374.76" y2="62.90" stroke="#555" stroke-width="0.4" />
<text x="374.76" y="62.5" font-size="2.4" fill="#333" text-anchor="middle" stroke="#333" stroke-width="0.12"  text-rendering="geometricPrecision">80</text>
<line x1="383.63" y1="63.80" x2="383.63" y2="62.90" stroke="#555" stroke-width="0.4" />
<text x="383.63" y="62.5" font-size="2.4" fill="#333" text-anchor="middle" stroke="#333" stroke-width="0.12"  text-rendering="geometricPrecision">90</text>
<line x1="392.50" y1="63.80" x2="392.50" y2="62.90" stroke="#555" stroke-width="0.4" />
<text x="392.5" y="62.5" font-size="2.4" fill="#333" text-anchor="middle" stroke="#333" stroke-width="0.12"  text-rendering="geometricPrecision">100</text>
<line x1="303.80" y1="74.50" x2="345.80" y2="74.50" stroke="#555" stroke-width="0.4" />
<line x1="303.80" y1="74.50" x2="303.80" y2="75.40" stroke="#555" stroke-width="0.4" />
<line x1="345.80" y1="74.50" x2="345.80" y2="75.40" stroke="#555" stroke-width="0.4" />
<line x1="324.50" y1="74.50" x2="324.50" y2="73.60" stroke="#555" stroke-width="0.4" />
<text x="324.5" y="72.5" font-size="2.1" fill="#444" text-anchor="middle" stroke="#444" stroke-width="0.12"  text-rendering="geometricPrecision">III</text>
<text x="303.8" y="78.1" font-size="2.1" fill="#444" text-anchor="middle" stroke="#444" stroke-width="0.12"  text-rendering="geometricPrecision">I</text>
<text x="345.8" y="78.1" font-size="2.1" fill="#444" text-anchor="middle" stroke="#444" stroke-width="0.12"  text-rendering="geometricPrecision">II</text>
<line x1="303.80" y1="85.50" x2="383.30" y2="85.50" stroke="#4a4a4a" stroke-width="0.45" />
<line x1="303.80" y1="85.50" x2="303.80" y2="86.40" stroke="#555" stroke-width="0.4" />
<text x="303.8" y="88.5" font-size="2.4" fill="#333" text-anchor="middle" stroke="#333" stroke-width="0.12"  text-rendering="geometricPrecision">5</text>
<line x1="309.92" y1="85.50" x2="309.92" y2="86.40" stroke="#555" stroke-width="0.4" />
<text x="309.91538461538465" y="88.5" font-size="2.4" fill="#333" text-anchor="middle" stroke="#333" stroke-width="0.12"  text-rendering="geometricPrecision">10</text>
<line x1="316.03" y1="85.50" x2="316.03" y2="86.40" stroke="#555" stroke-width="0.4" />
<text x="316.03076923076924" y="88.5" font-size="2.4" fill="#333" text-anchor="middle" stroke="#333" stroke-width="0.12"  text-rendering="geometricPrecision">15</text>
<line x1="322.15" y1="85.50" x2="322.15" y2="86.40" stroke="#555" stroke-width="0.4" />
<text x="322.1461538461539" y="88.5" font-size="2.4" fill="#333" text-anchor="middle" stroke="#333" stroke-width="0.12"  text-rendering="geometricPrecision">20</text>
<line x1="328.26" y1="85.50" x2="328.26" y2="86.40" stroke="#555" stroke-width="0.4" />
<text x="328.26153846153846" y="88.5" font-size="2.4" fill="#333" text-anchor="middle" stroke="#333" stroke-width="0.12"  text-rendering="geometricPrecision">25</text>
<line x1="334.38" y1="85.50" x2="334.38" y2="86.40" stroke="#555" stroke-width="0.4" />
<text x="334.3769230769231" y="88.5" font-size="2.4" fill="#333" text-anchor="middle" stroke="#333" stroke-width="0.12"  text-rendering="geometricPrecision">30</text>
<line x1="340.49" y1="85.50" x2="340.49" y2="86.40" stroke="#555" stroke-width="0.4" />
<text x="340.4923076923077" y="88.5" font-size="2.4" fill="#333" text-anchor="middle" stroke="#333" stroke-width="0.12"  text-rendering="geometricPrecision">35</text>
<line x1="346.61" y1="85.50" x2="346.61" y2="86.40" stroke="#555" stroke-width="0.4" />
<text x="346.60769230769233" y="88.5" font-size="2.4" fill="#333" text-anchor="middle" stroke="#333" stroke-width="0.12"  text-rendering="geometricPrecision">40</text>
<line x1="352.72" y1="85.50" x2="352.72" y2="86.40" stroke="#555" stroke-width="0.4" />
<text x="352.7230769230769" y="88.5" font-size="2.4" fill="#333" text-anchor="middle" stroke="#333" stroke-width="0.12"  text-rendering="geometricPrecision">45</text>
<line x1="358.84" y1="85.50" x2="358.84" y2="86.40" stroke="#555" stroke-width="0.4" />
<text x="358.83846153846156" y="88.5" font-size="2.4" fill="#333" text-anchor="middle" stroke="#333" stroke-width="0.12"  text-rendering="geometricPrecision">50</text>
<line x1="364.95" y1="85.50" x2="364.95" y2="86.40" stroke="#555" stroke-width="0.4" />
<text x="364.95384615384614" y="88.5" font-size="2.4" fill="#333" text-anchor="middle" stroke="#333" stroke-width="0.12"  text-rendering="geometricPrecision">55</text>
<line x1="371.07" y1="85.50" x2="371.07" y2="86.40" stroke="#555" stroke-width="0.4" />
<text x="371.0692307692308" y="88.5" font-size="2.4" fill="#333" text-anchor="middle" stroke="#333" stroke-width="0.12"  text-rendering="geometricPrecision">60</text>
<line x1="377.18" y1="85.50" x2="377.18" y2="86.40" stroke="#555" stroke-width="0.4" />
<text x="377.1846153846154" y="88.5" font-size="2.4" fill="#333" text-anchor="middle" stroke="#333" stroke-width="0.12"  text-rendering="geometricPrecision">65</text>
<line x1="383.30" y1="85.50" x2="383.30" y2="86.40" stroke="#555" stroke-width="0.4" />
<text x="383.3" y="88.5" font-size="2.4" fill="#333" text-anchor="middle" stroke="#333" stroke-width="0.12"  text-rendering="geometricPrecision">70</text>
<line x1="303.80" y1="95.60" x2="366.30" y2="95.60" stroke="#4a4a4a" stroke-width="0.45" />
<line x1="303.80" y1="95.60" x2="303.80" y2="96.50" stroke="#555" stroke-width="0.4" />
<text x="303.8" y="98.6" font-size="2.4" fill="#333" text-anchor="middle" stroke="#333" stroke-width="0.12"  text-rendering="geometricPrecision">4</text>
<line x1="311.61" y1="95.60" x2="311.61" y2="96.50" stroke="#555" stroke-width="0.4" />
<text x="311.6125" y="98.6" font-size="2.4" fill="#333" text-anchor="middle" stroke="#333" stroke-width="0.12"  text-rendering="geometricPrecision">6</text>
<line x1="319.43" y1="95.60" x2="319.43" y2="96.50" stroke="#555" stroke-width="0.4" />
<text x="319.425" y="98.6" font-size="2.4" fill="#333" text-anchor="middle" stroke="#333" stroke-width="0.12"  text-rendering="geometricPrecision">8</text>
<line x1="327.24" y1="95.60" x2="327.24" y2="96.50" stroke="#555" stroke-width="0.4" />
<text x="327.2375" y="98.6" font-size="2.4" fill="#333" text-anchor="middle" stroke="#333" stroke-width="0.12"  text-rendering="geometricPrecision">10</text>
<line x1="335.05" y1="95.60" x2="335.05" y2="96.50" stroke="#555" stroke-width="0.4" />
<text x="335.05" y="98.6" font-size="2.4" fill="#333" text-anchor="middle" stroke="#333" stroke-width="0.12"  text-rendering="geometricPrecision">12</text>
<line x1="342.86" y1="95.60" x2="342.86" y2="96.50" stroke="#555" stroke-width="0.4" />
<text x="342.8625" y="98.6" font-size="2.4" fill="#333" text-anchor="middle" stroke="#333" stroke-width="0.12"  text-rendering="geometricPrecision">14</text>
<line x1="350.68" y1="95.60" x2="350.68" y2="96.50" stroke="#555" stroke-width="0.4" />
<text x="350.675" y="98.6" font-size="2.4" fill="#333" text-anchor="middle" stroke="#333" stroke-width="0.12"  text-rendering="geometricPrecision">16</text>
<line x1="358.49" y1="95.60" x2="358.49" y2="96.50" stroke="#555" stroke-width="0.4" />
<text x="358.4875" y="98.6" font-size="2.4" fill="#333" text-anchor="middle" stroke="#333" stroke-width="0.12"  text-rendering="geometricPrecision">18</text>
<line x1="366.30" y1="95.60" x2="366.30" y2="96.50" stroke="#555" stroke-width="0.4" />
<text x="366.3" y="98.6" font-size="2.4" fill="#333" text-anchor="middle" stroke="#333" stroke-width="0.12"  text-rendering="geometricPrecision">20</text>
<line x1="303.80" y1="106.30" x2="392.00" y2="106.30" stroke="#4a4a4a" stroke-width="0.45" />
<line x1="303.80" y1="106.30" x2="303.80" y2="107.20" stroke="#555" stroke-width="0.4" />
<text x="303.8" y="109.3" font-size="2.4" fill="#333" text-anchor="middle" stroke="#333" stroke-width="0.12"  text-rendering="geometricPrecision">-0.5</text>
<line x1="316.40" y1="106.30" x2="316.40" y2="107.20" stroke="#555" stroke-width="0.4" />
<text x="316.40000000000003" y="109.3" font-size="2.4" fill="#333" text-anchor="middle" stroke="#333" stroke-width="0.12"  text-rendering="geometricPrecision">0</text>
<line x1="329.00" y1="106.30" x2="329.00" y2="107.20" stroke="#555" stroke-width="0.4" />
<text x="329.0" y="109.3" font-size="2.4" fill="#333" text-anchor="middle" stroke="#333" stroke-width="0.12"  text-rendering="geometricPrecision">0.5</text>
<line x1="341.60" y1="106.30" x2="341.60" y2="107.20" stroke="#555" stroke-width="0.4" />
<text x="341.6" y="109.3" font-size="2.4" fill="#333" text-anchor="middle" stroke="#333" stroke-width="0.12"  text-rendering="geometricPrecision">1</text>
<line x1="354.20" y1="106.30" x2="354.20" y2="107.20" stroke="#555" stroke-width="0.4" />
<text x="354.2" y="109.3" font-size="2.4" fill="#333" text-anchor="middle" stroke="#333" stroke-width="0.12"  text-rendering="geometricPrecision">1.5</text>
<line x1="366.80" y1="106.30" x2="366.80" y2="107.20" stroke="#555" stroke-width="0.4" />
<text x="366.8" y="109.3" font-size="2.4" fill="#333" text-anchor="middle" stroke="#333" stroke-width="0.12"  text-rendering="geometricPrecision">2</text>
<line x1="379.40" y1="106.30" x2="379.40" y2="107.20" stroke="#555" stroke-width="0.4" />
<text x="379.4" y="109.3" font-size="2.4" fill="#333" text-anchor="middle" stroke="#333" stroke-width="0.12"  text-rendering="geometricPrecision">2.5</text>
<line x1="392.00" y1="106.30" x2="392.00" y2="107.20" stroke="#555" stroke-width="0.4" />
<text x="392.0" y="109.3" font-size="2.4" fill="#333" text-anchor="middle" stroke="#333" stroke-width="0.12"  text-rendering="geometricPrecision">3</text>
<line x1="303.80" y1="116.60" x2="392.50" y2="116.60" stroke="#4a4a4a" stroke-width="0.45" />
<line x1="303.80" y1="116.60" x2="303.80" y2="117.50" stroke="#555" stroke-width="0.4" />
<text x="303.8" y="119.6" font-size="2.4" fill="#333" text-anchor="middle" stroke="#333" stroke-width="0.12"  text-rendering="geometricPrecision">0</text>
<line x1="318.58" y1="116.60" x2="318.58" y2="117.50" stroke="#555" stroke-width="0.4" />
<text x="318.58333333333337" y="119.6" font-size="2.4" fill="#333" text-anchor="middle" stroke="#333" stroke-width="0.12"  text-rendering="geometricPrecision">40</text>
<line x1="333.37" y1="116.60" x2="333.37" y2="117.50" stroke="#555" stroke-width="0.4" />
<text x="333.3666666666667" y="119.6" font-size="2.4" fill="#333" text-anchor="middle" stroke="#333" stroke-width="0.12"  text-rendering="geometricPrecision">80</text>
<line x1="348.15" y1="116.60" x2="348.15" y2="117.50" stroke="#555" stroke-width="0.4" />
<text x="348.15" y="119.6" font-size="2.4" fill="#333" text-anchor="middle" stroke="#333" stroke-width="0.12"  text-rendering="geometricPrecision">120</text>
<line x1="362.93" y1="116.60" x2="362.93" y2="117.50" stroke="#555" stroke-width="0.4" />
<text x="362.93333333333334" y="119.6" font-size="2.4" fill="#333" text-anchor="middle" stroke="#333" stroke-width="0.12"  text-rendering="geometricPrecision">160</text>
<line x1="377.72" y1="116.60" x2="377.72" y2="117.50" stroke="#555" stroke-width="0.4" />
<text x="377.7166666666667" y="119.6" font-size="2.4" fill="#333" text-anchor="middle" stroke="#333" stroke-width="0.12"  text-rendering="geometricPrecision">200</text>
<line x1="392.50" y1="116.60" x2="392.50" y2="117.50" stroke="#555" stroke-width="0.4" />
<text x="392.5" y="119.6" font-size="2.4" fill="#333" text-anchor="middle" stroke="#333" stroke-width="0.12"  text-rendering="geometricPrecision">240</text>
<line x1="303.80" y1="116.60" x2="303.80" y2="117.20" stroke="#555" stroke-width="0.3" />
<line x1="305.28" y1="116.60" x2="305.28" y2="117.20" stroke="#555" stroke-width="0.3" />
<line x1="306.76" y1="116.60" x2="306.76" y2="117.20" stroke="#555" stroke-width="0.3" />
<line x1="308.24" y1="116.60" x2="308.24" y2="117.20" stroke="#555" stroke-width="0.3" />
<line x1="309.71" y1="116.60" x2="309.71" y2="117.20" stroke="#555" stroke-width="0.3" />
<line x1="311.19" y1="116.60" x2="311.19" y2="117.20" stroke="#555" stroke-width="0.3" />
<line x1="312.67" y1="116.60" x2="312.67" y2="117.20" stroke="#555" stroke-width="0.3" />
<line x1="314.15" y1="116.60" x2="314.15" y2="117.20" stroke="#555" stroke-width="0.3" />
<line x1="315.63" y1="116.60" x2="315.63" y2="117.20" stroke="#555" stroke-width="0.3" />
<line x1="317.11" y1="116.60" x2="317.11" y2="117.20" stroke="#555" stroke-width="0.3" />
<line x1="318.58" y1="116.60" x2="318.58" y2="117.20" stroke="#555" stroke-width="0.3" />
<line x1="320.06" y1="116.60" x2="320.06" y2="117.20" stroke="#555" stroke-width="0.3" />
<line x1="321.54" y1="116.60" x2="321.54" y2="117.20" stroke="#555" stroke-width="0.3" />
<line x1="323.02" y1="116.60" x2="323.02" y2="117.20" stroke="#555" stroke-width="0.3" />
<line x1="324.50" y1="116.60" x2="324.50" y2="117.20" stroke="#555" stroke-width="0.3" />
<line x1="325.98" y1="116.60" x2="325.98" y2="117.20" stroke="#555" stroke-width="0.3" />
<line x1="327.45" y1="116.60" x2="327.45" y2="117.20" stroke="#555" stroke-width="0.3" />
<line x1="328.93" y1="116.60" x2="328.93" y2="117.20" stroke="#555" stroke-width="0.3" />
<line x1="330.41" y1="116.60" x2="330.41" y2="117.20" stroke="#555" stroke-width="0.3" />
<line x1="331.89" y1="116.60" x2="331.89" y2="117.20" stroke="#555" stroke-width="0.3" />
<line x1="333.37" y1="116.60" x2="333.37" y2="117.20" stroke="#555" stroke-width="0.3" />
<line x1="334.85" y1="116.60" x2="334.85" y2="117.20" stroke="#555" stroke-width="0.3" />
<line x1="336.32" y1="116.60" x2="336.32" y2="117.20" stroke="#555" stroke-width="0.3" />
<line x1="337.80" y1="116.60" x2="337.80" y2="117.20" stroke="#555" stroke-width="0.3" />
<line x1="339.28" y1="116.60" x2="339.28" y2="117.20" stroke="#555" stroke-width="0.3" />
<line x1="340.76" y1="116.60" x2="340.76" y2="117.20" stroke="#555" stroke-width="0.3" />
<line x1="342.24" y1="116.60" x2="342.24" y2="117.20" stroke="#555" stroke-width="0.3" />
<line x1="343.72" y1="116.60" x2="343.72" y2="117.20" stroke="#555" stroke-width="0.3" />
<line x1="345.19" y1="116.60" x2="345.19" y2="117.20" stroke="#555" stroke-width="0.3" />
<line x1="346.67" y1="116.60" x2="346.67" y2="117.20" stroke="#555" stroke-width="0.3" />
<line x1="348.15" y1="116.60" x2="348.15" y2="117.20" stroke="#555" stroke-width="0.3" />
<line x1="349.63" y1="116.60" x2="349.63" y2="117.20" stroke="#555" stroke-width="0.3" />
<line x1="351.11" y1="116.60" x2="351.11" y2="117.20" stroke="#555" stroke-width="0.3" />
<line x1="352.58" y1="116.60" x2="352.58" y2="117.20" stroke="#555" stroke-width="0.3" />
<line x1="354.06" y1="116.60" x2="354.06" y2="117.20" stroke="#555" stroke-width="0.3" />
<line x1="355.54" y1="116.60" x2="355.54" y2="117.20" stroke="#555" stroke-width="0.3" />
<line x1="357.02" y1="116.60" x2="357.02" y2="117.20" stroke="#555" stroke-width="0.3" />
<line x1="358.50" y1="116.60" x2="358.50" y2="117.20" stroke="#555" stroke-width="0.3" />
<line x1="359.98" y1="116.60" x2="359.98" y2="117.20" stroke="#555" stroke-width="0.3" />
<line x1="361.45" y1="116.60" x2="361.45" y2="117.20" stroke="#555" stroke-width="0.3" />
<line x1="362.93" y1="116.60" x2="362.93" y2="117.20" stroke="#555" stroke-width="0.3" />
<line x1="364.41" y1="116.60" x2="364.41" y2="117.20" stroke="#555" stroke-width="0.3" />
<line x1="365.89" y1="116.60" x2="365.89" y2="117.20" stroke="#555" stroke-width="0.3" />
<line x1="367.37" y1="116.60" x2="367.37" y2="117.20" stroke="#555" stroke-width="0.3" />
<line x1="368.85" y1="116.60" x2="368.85" y2="117.20" stroke="#555" stroke-width="0.3" />
<line x1="370.32" y1="116.60" x2="370.32" y2="117.20" stroke="#555" stroke-width="0.3" />
<line x1="371.80" y1="116.60" x2="371.80" y2="117.20" stroke="#555" stroke-width="0.3" />
<line x1="373.28" y1="116.60" x2="373.28" y2="117.20" stroke="#555" stroke-width="0.3" />
<line x1="374.76" y1="116.60" x2="374.76" y2="117.20" stroke="#555" stroke-width="0.3" />
<line x1="376.24" y1="116.60" x2="376.24" y2="117.20" stroke="#555" stroke-width="0.3" />
<line x1="377.72" y1="116.60" x2="377.72" y2="117.20" stroke="#555" stroke-width="0.3" />
<line x1="379.19" y1="116.60" x2="379.19" y2="117.20" stroke="#555" stroke-width="0.3" />
<line x1="380.67" y1="116.60" x2="380.67" y2="117.20" stroke="#555" stroke-width="0.3" />
<line x1="382.15" y1="116.60" x2="382.15" y2="117.20" stroke="#555" stroke-width="0.3" />
<line x1="383.63" y1="116.60" x2="383.63" y2="117.20" stroke="#555" stroke-width="0.3" />
<line x1="385.11" y1="116.60" x2="385.11" y2="117.20" stroke="#555" stroke-width="0.3" />
<line x1="386.59" y1="116.60" x2="386.59" y2="117.20" stroke="#555" stroke-width="0.3" />
<line x1="388.06" y1="116.60" x2="388.06" y2="117.20" stroke="#555" stroke-width="0.3" />
<line x1="389.54" y1="116.60" x2="389.54" y2="117.20" stroke="#555" stroke-width="0.3" />
<line x1="391.02" y1="116.60" x2="391.02" y2="117.20" stroke="#555" stroke-width="0.3" />
<line x1="392.50" y1="116.60" x2="392.50" y2="117.20" stroke="#555" stroke-width="0.3" />
<line x1="303.80" y1="63.80" x2="303.80" y2="63.20" stroke="#555" stroke-width="0.3" />
<line x1="305.57" y1="63.80" x2="305.57" y2="63.20" stroke="#555" stroke-width="0.3" />
<line x1="307.35" y1="63.80" x2="307.35" y2="63.20" stroke="#555" stroke-width="0.3" />
<line x1="309.12" y1="63.80" x2="309.12" y2="63.20" stroke="#555" stroke-width="0.3" />
<line x1="310.90" y1="63.80" x2="310.90" y2="63.20" stroke="#555" stroke-width="0.3" />
<line x1="312.67" y1="63.80" x2="312.67" y2="63.20" stroke="#555" stroke-width="0.3" />
<line x1="314.44" y1="63.80" x2="314.44" y2="63.20" stroke="#555" stroke-width="0.3" />
<line x1="316.22" y1="63.80" x2="316.22" y2="63.20" stroke="#555" stroke-width="0.3" />
<line x1="317.99" y1="63.80" x2="317.99" y2="63.20" stroke="#555" stroke-width="0.3" />
<line x1="319.77" y1="63.80" x2="319.77" y2="63.20" stroke="#555" stroke-width="0.3" />
<line x1="321.54" y1="63.80" x2="321.54" y2="63.20" stroke="#555" stroke-width="0.3" />
<line x1="323.31" y1="63.80" x2="323.31" y2="63.20" stroke="#555" stroke-width="0.3" />
<line x1="325.09" y1="63.80" x2="325.09" y2="63.20" stroke="#555" stroke-width="0.3" />
<line x1="326.86" y1="63.80" x2="326.86" y2="63.20" stroke="#555" stroke-width="0.3" />
<line x1="328.64" y1="63.80" x2="328.64" y2="63.20" stroke="#555" stroke-width="0.3" />
<line x1="330.41" y1="63.80" x2="330.41" y2="63.20" stroke="#555" stroke-width="0.3" />
<line x1="332.18" y1="63.80" x2="332.18" y2="63.20" stroke="#555" stroke-width="0.3" />
<line x1="333.96" y1="63.80" x2="333.96" y2="63.20" stroke="#555" stroke-width="0.3" />
<line x1="335.73" y1="63.80" x2="335.73" y2="63.20" stroke="#555" stroke-width="0.3" />
<line x1="337.51" y1="63.80" x2="337.51" y2="63.20" stroke="#555" stroke-width="0.3" />
<line x1="339.28" y1="63.80" x2="339.28" y2="63.20" stroke="#555" stroke-width="0.3" />
<line x1="341.05" y1="63.80" x2="341.05" y2="63.20" stroke="#555" stroke-width="0.3" />
<line x1="342.83" y1="63.80" x2="342.83" y2="63.20" stroke="#555" stroke-width="0.3" />
<line x1="344.60" y1="63.80" x2="344.60" y2="63.20" stroke="#555" stroke-width="0.3" />
<line x1="346.38" y1="63.80" x2="346.38" y2="63.20" stroke="#555" stroke-width="0.3" />
<line x1="348.15" y1="63.80" x2="348.15" y2="63.20" stroke="#555" stroke-width="0.3" />
<line x1="349.92" y1="63.80" x2="349.92" y2="63.20" stroke="#555" stroke-width="0.3" />
<line x1="351.70" y1="63.80" x2="351.70" y2="63.20" stroke="#555" stroke-width="0.3" />
<line x1="353.47" y1="63.80" x2="353.47" y2="63.20" stroke="#555" stroke-width="0.3" />
<line x1="355.25" y1="63.80" x2="355.25" y2="63.20" stroke="#555" stroke-width="0.3" />
<line x1="357.02" y1="63.80" x2="357.02" y2="63.20" stroke="#555" stroke-width="0.3" />
<line x1="358.79" y1="63.80" x2="358.79" y2="63.20" stroke="#555" stroke-width="0.3" />
<line x1="360.57" y1="63.80" x2="360.57" y2="63.20" stroke="#555" stroke-width="0.3" />
<line x1="362.34" y1="63.80" x2="362.34" y2="63.20" stroke="#555" stroke-width="0.3" />
<line x1="364.12" y1="63.80" x2="364.12" y2="63.20" stroke="#555" stroke-width="0.3" />
<line x1="365.89" y1="63.80" x2="365.89" y2="63.20" stroke="#555" stroke-width="0.3" />
<line x1="367.66" y1="63.80" x2="367.66" y2="63.20" stroke="#555" stroke-width="0.3" />
<line x1="369.44" y1="63.80" x2="369.44" y2="63.20" stroke="#555" stroke-width="0.3" />
<line x1="371.21" y1="63.80" x2="371.21" y2="63.20" stroke="#555" stroke-width="0.3" />
<line x1="372.99" y1="63.80" x2="372.99" y2="63.20" stroke="#555" stroke-width="0.3" />
<line x1="374.76" y1="63.80" x2="374.76" y2="63.20" stroke="#555" stroke-width="0.3" />
<line x1="376.53" y1="63.80" x2="376.53" y2="63.20" stroke="#555" stroke-width="0.3" />
<line x1="378.31" y1="63.80" x2="378.31" y2="63.20" stroke="#555" stroke-width="0.3" />
<line x1="380.08" y1="63.80" x2="380.08" y2="63.20" stroke="#555" stroke-width="0.3" />
<line x1="381.86" y1="63.80" x2="381.86" y2="63.20" stroke="#555" stroke-width="0.3" />
<line x1="383.63" y1="63.80" x2="383.63" y2="63.20" stroke="#555" stroke-width="0.3" />
<line x1="385.40" y1="63.80" x2="385.40" y2="63.20" stroke="#555" stroke-width="0.3" />
<line x1="387.18" y1="63.80" x2="387.18" y2="63.20" stroke="#555" stroke-width="0.3" />
<line x1="388.95" y1="63.80" x2="388.95" y2="63.20" stroke="#555" stroke-width="0.3" />
<line x1="390.73" y1="63.80" x2="390.73" y2="63.20" stroke="#555" stroke-width="0.3" />
<line x1="392.50" y1="63.80" x2="392.50" y2="63.20" stroke="#555" stroke-width="0.3" />
<line x1="322.00" y1="127.60" x2="386.30" y2="127.60" stroke="#555" stroke-width="0.4" />
<line x1="322.00" y1="127.60" x2="322.00" y2="128.50" stroke="#555" stroke-width="0.4" />
<line x1="336.00" y1="127.60" x2="336.00" y2="128.50" stroke="#555" stroke-width="0.4" />
<line x1="341.00" y1="127.60" x2="341.00" y2="128.50" stroke="#555" stroke-width="0.4" />
<line x1="346.00" y1="127.60" x2="346.00" y2="128.50" stroke="#555" stroke-width="0.4" />
<line x1="349.50" y1="127.60" x2="349.50" y2="128.50" stroke="#555" stroke-width="0.4" />
<line x1="352.50" y1="127.60" x2="352.50" y2="128.50" stroke="#555" stroke-width="0.4" />
<line x1="355.50" y1="127.60" x2="355.50" y2="128.50" stroke="#555" stroke-width="0.4" />
<line x1="358.50" y1="127.60" x2="358.50" y2="128.50" stroke="#555" stroke-width="0.4" />
<line x1="362.00" y1="127.60" x2="362.00" y2="128.50" stroke="#555" stroke-width="0.4" />
<line x1="367.00" y1="127.60" x2="367.00" y2="128.50" stroke="#555" stroke-width="0.4" />
<line x1="371.00" y1="127.60" x2="371.00" y2="128.50" stroke="#555" stroke-width="0.4" />
<line x1="376.50" y1="127.60" x2="376.50" y2="128.50" stroke="#555" stroke-width="0.4" />
<line x1="382.50" y1="127.60" x2="382.50" y2="128.50" stroke="#555" stroke-width="0.4" />
<line x1="386.30" y1="127.60" x2="386.30" y2="128.50" stroke="#555" stroke-width="0.4" />
<text x="323" y="131.2" font-size="2.1" fill="#444" text-anchor="middle" stroke="#444" stroke-width="0.12"  text-rendering="geometricPrecision">0.01</text>
<text x="336" y="131.2" font-size="2.1" fill="#444" text-anchor="middle" stroke="#444" stroke-width="0.12"  text-rendering="geometricPrecision">0.05</text>
<text x="341" y="131.2" font-size="2.1" fill="#444" text-anchor="middle" stroke="#444" stroke-width="0.12"  text-rendering="geometricPrecision">0.1</text>
<text x="356.7" y="131.2" font-size="2.1" fill="#444" text-anchor="middle" stroke="#444" stroke-width="0.12"  text-rendering="geometricPrecision">0.2 0.30.40.50.60.7</text>
<text x="371" y="131.2" font-size="2.1" fill="#444" text-anchor="middle" stroke="#444" stroke-width="0.12"  text-rendering="geometricPrecision">0.8</text>
<text x="376.5" y="131.2" font-size="2.1" fill="#444" text-anchor="middle" stroke="#444" stroke-width="0.12"  text-rendering="geometricPrecision">0.9</text>
<text x="382.5" y="131.2" font-size="2.1" fill="#444" text-anchor="middle" stroke="#444" stroke-width="0.12"  text-rendering="geometricPrecision">0.95</text>
<text x="331.6" y="142.7" font-size="5.1" fill="#1a1a1a" text-anchor="middle" textLength="25" lengthAdjust="spacingAndGlyphs" stroke="#1a1a1a" stroke-width="0.04" >Nomogram</text>
<line x1="286.50" y1="189.50" x2="286.50" y2="237.80" stroke="#444" stroke-width="0.45" />
<line x1="290.80" y1="249.20" x2="390.60" y2="249.20" stroke="#444" stroke-width="0.45" />
<line x1="285.20" y1="237.60" x2="286.50" y2="237.60" stroke="#444" stroke-width="0.4" />
<text x="282.3" y="237.6" font-size="2.6" fill="#333" text-anchor="middle" stroke="#333" stroke-width="0.12" transform="rotate(-90 282.3 237.6)" text-rendering="geometricPrecision">0.0</text>
<line x1="286.50" y1="237.60" x2="392.00" y2="237.60" stroke="#f0f0f0" stroke-width="0.35" />
<line x1="285.20" y1="221.65" x2="286.50" y2="221.65" stroke="#444" stroke-width="0.4" />
<text x="282.3" y="221.65" font-size="2.6" fill="#333" text-anchor="middle" stroke="#333" stroke-width="0.12" transform="rotate(-90 282.3 221.7)" text-rendering="geometricPrecision">0.1</text>
<line x1="286.50" y1="221.65" x2="392.00" y2="221.65" stroke="#f0f0f0" stroke-width="0.35" />
<line x1="285.20" y1="205.70" x2="286.50" y2="205.70" stroke="#444" stroke-width="0.4" />
<text x="282.3" y="205.7" font-size="2.6" fill="#333" text-anchor="middle" stroke="#333" stroke-width="0.12" transform="rotate(-90 282.3 205.7)" text-rendering="geometricPrecision">0.2</text>
<line x1="286.50" y1="205.70" x2="392.00" y2="205.70" stroke="#f0f0f0" stroke-width="0.35" />
<line x1="285.20" y1="189.75" x2="286.50" y2="189.75" stroke="#444" stroke-width="0.4" />
<text x="282.3" y="189.75" font-size="2.6" fill="#333" text-anchor="middle" stroke="#333" stroke-width="0.12" transform="rotate(-90 282.3 189.8)" text-rendering="geometricPrecision">0.3</text>
<line x1="286.50" y1="189.75" x2="392.00" y2="189.75" stroke="#f0f0f0" stroke-width="0.35" />
<line x1="290.80" y1="189.00" x2="290.80" y2="247.00" stroke="#f2f2f2" stroke-width="0.35" />
<line x1="310.76" y1="189.00" x2="310.76" y2="247.00" stroke="#f2f2f2" stroke-width="0.35" />
<line x1="330.72" y1="189.00" x2="330.72" y2="247.00" stroke="#f2f2f2" stroke-width="0.35" />
<line x1="350.68" y1="189.00" x2="350.68" y2="247.00" stroke="#f2f2f2" stroke-width="0.35" />
<line x1="370.64" y1="189.00" x2="370.64" y2="247.00" stroke="#f2f2f2" stroke-width="0.35" />
<line x1="390.60" y1="189.00" x2="390.60" y2="247.00" stroke="#f2f2f2" stroke-width="0.35" />
<line x1="290.80" y1="249.20" x2="290.80" y2="250.40" stroke="#444" stroke-width="0.4" />
<text x="290.8" y="254.6" font-size="2.6" fill="#333" text-anchor="middle" stroke="#333" stroke-width="0.12"  text-rendering="geometricPrecision">0.0</text>
<line x1="310.76" y1="249.20" x2="310.76" y2="250.40" stroke="#444" stroke-width="0.4" />
<text x="310.76" y="254.6" font-size="2.6" fill="#333" text-anchor="middle" stroke="#333" stroke-width="0.12"  text-rendering="geometricPrecision">0.2</text>
<line x1="330.72" y1="249.20" x2="330.72" y2="250.40" stroke="#444" stroke-width="0.4" />
<text x="330.72" y="254.6" font-size="2.6" fill="#333" text-anchor="middle" stroke="#333" stroke-width="0.12"  text-rendering="geometricPrecision">0.4</text>
<line x1="350.68" y1="249.20" x2="350.68" y2="250.40" stroke="#444" stroke-width="0.4" />
<text x="350.68" y="254.6" font-size="2.6" fill="#333" text-anchor="middle" stroke="#333" stroke-width="0.12"  text-rendering="geometricPrecision">0.6</text>
<line x1="370.64" y1="249.20" x2="370.64" y2="250.40" stroke="#444" stroke-width="0.4" />
<text x="370.64" y="254.6" font-size="2.6" fill="#333" text-anchor="middle" stroke="#333" stroke-width="0.12"  text-rendering="geometricPrecision">0.8</text>
<line x1="390.60" y1="249.20" x2="390.60" y2="250.40" stroke="#444" stroke-width="0.4" />
<text x="390.6" y="254.6" font-size="2.6" fill="#333" text-anchor="middle" stroke="#333" stroke-width="0.12"  text-rendering="geometricPrecision">1.0</text>
<text x="340.9" y="262.5" font-size="3.0" fill="#222" text-anchor="middle" textLength="27" lengthAdjust="spacingAndGlyphs" stroke="#222" stroke-width="0.12"  text-rendering="geometricPrecision">High Risk Threshold</text>
<text x="274.2" y="214" font-size="2.8" fill="#222" text-anchor="middle" stroke="#222" stroke-width="0.12" transform="rotate(-90 274.2 214)" text-rendering="geometricPrecision">Net Benefit</text>
<line x1="290.50" y1="237.80" x2="390.00" y2="237.80" stroke="#bcbcbc" stroke-width="0.8" />
<path d="M290.8,189.8 Q305,214 322.7,247.5" fill="none" stroke="#e4c4c4" stroke-width="0.6"/>
<polyline points="290.80,189.80 294.70,193.70 296.60,196.60 298.50,199.50 300.50,202.40 302.40,204.30 304.30,207.20 306.30,209.20 308.20,212.10 310.10,215.90 312.10,218.80 314.00,220.80 315.90,219.80 317.90,220.80 319.80,219.80 321.80,220.80 323.70,223.70 325.60,224.70 327.60,223.70 329.50,225.60 331.40,228.50 333.40,230.50 335.30,230.50 337.20,231.40 339.20,233.40 340.00,231.40 341.90,229.50 343.90,232.40 345.80,234.30 347.70,235.70 349.70,236.80 351.60,237.60 389.00,237.60" fill="none" stroke="#44dd44" stroke-width="0.7" stroke-linejoin="round" />
<polyline points="290.80,189.80 294.70,193.70 296.60,196.60 298.50,198.50 300.50,200.50 302.40,201.40 304.30,201.40 306.30,203.40 308.20,204.30 310.10,206.30 312.10,209.20 314.00,211.10 315.90,212.10 317.90,212.10 319.80,213.00 321.80,215.00 323.70,216.90 325.60,218.80 327.60,219.80 329.50,221.80 331.40,222.70 333.40,223.70 335.30,224.70 337.20,225.60 339.20,226.60 341.10,225.60 343.00,225.20 345.00,226.00 345.80,225.60 347.70,226.60 349.70,227.60 351.60,226.60 353.50,227.60 355.50,223.70 357.40,220.80 359.30,218.40 360.30,219.00 361.60,220.30 362.60,222.60 363.70,224.40 365.90,226.40 368.10,227.50 370.20,228.10 372.40,229.20 374.50,229.80 376.70,230.90 378.80,232.00 381.00,233.60 383.20,235.20 385.30,236.70 387.50,238.00 389.60,238.40" fill="none" stroke="#e04848" stroke-width="0.65" stroke-linejoin="round" />
<rect x="357.2" y="182.6" width="37.1" height="13.4" fill="#fff" stroke="#666" stroke-width="0.4"/>
<line x1="360.20" y1="185.20" x2="367.00" y2="185.20" stroke="#e8b0a0" stroke-width="0.6" />
<text x="369.4" y="186.1" font-size="2.9" fill="#222" text-anchor="start" textLength="22.2" lengthAdjust="spacingAndGlyphs" stroke="#222" stroke-width="0.12"  text-rendering="geometricPrecision">combined model</text>
<line x1="360.20" y1="187.90" x2="367.00" y2="187.90" stroke="#e8d0a0" stroke-width="0.6" />
<text x="369.4" y="188.79999999999998" font-size="2.9" fill="#222" text-anchor="start" textLength="3.5" lengthAdjust="spacingAndGlyphs" stroke="#222" stroke-width="0.12"  text-rendering="geometricPrecision">Cli</text>
<line x1="360.20" y1="190.60" x2="367.00" y2="190.60" stroke="#a8e0a0" stroke-width="0.6" />
<text x="369.4" y="191.5" font-size="2.9" fill="#222" text-anchor="start" textLength="3.2" lengthAdjust="spacingAndGlyphs" stroke="#222" stroke-width="0.12"  text-rendering="geometricPrecision">RS</text>
<line x1="360.20" y1="193.30" x2="367.00" y2="193.30" stroke="#a8c8a8" stroke-width="0.6" />
<text x="369.4" y="194.2" font-size="2.9" fill="#222" text-anchor="start" textLength="6.2" lengthAdjust="spacingAndGlyphs" stroke="#222" stroke-width="0.12"  text-rendering="geometricPrecision">None</text>
<text x="336.6" y="277.0" font-size="5.1" fill="#1a1a1a" text-anchor="middle" textLength="33" lengthAdjust="spacingAndGlyphs" stroke="#1a1a1a" stroke-width="0.04" >Decision curve</text>
<rect x="392" y="304" width="8" height="6" fill="#f8f8f8"/></svg>
</body></html>
